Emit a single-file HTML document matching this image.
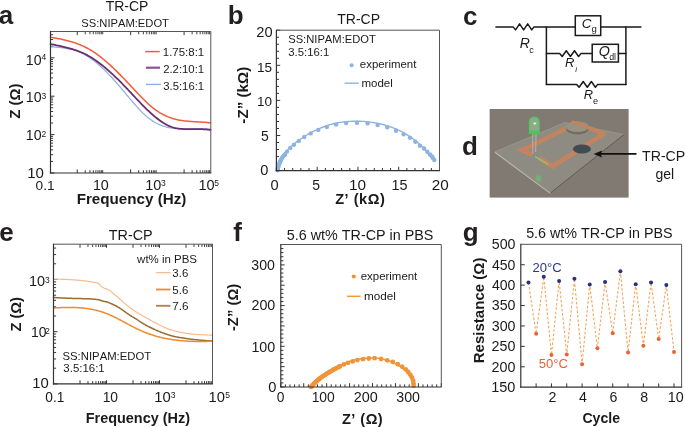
<!DOCTYPE html>
<html><head><meta charset="utf-8"><style>
html,body{margin:0;padding:0;background:#fff;}
svg{display:block;will-change:transform;}
text{font-family:"Liberation Sans", sans-serif;font-kerning:none;}
</style></head><body>
<svg width="685" height="427" viewBox="0 0 685 427">
<rect width="685" height="427" fill="#fff"/>
<text x="-1.36" y="23.90" style="font-size:26.00px;font-weight:bold;" fill="#231f20" >a</text>
<text x="105.69" y="10.90" style="font-size:13.96px;" fill="#1a1a1a" >TR-CP</text>
<text x="81.29" y="27.00" style="font-size:11.20px;" fill="#1a1a1a" >SS:NIPAM:EDOT</text>
<line x1="50.50" y1="173.00" x2="54.50" y2="173.00" stroke="#333" stroke-width="1.0" />
<line x1="50.50" y1="161.44" x2="53.10" y2="161.44" stroke="#3a3a3a" stroke-width="1.0" />
<line x1="50.50" y1="154.68" x2="53.10" y2="154.68" stroke="#3a3a3a" stroke-width="1.0" />
<line x1="50.50" y1="149.88" x2="53.10" y2="149.88" stroke="#3a3a3a" stroke-width="1.0" />
<line x1="50.50" y1="146.16" x2="53.10" y2="146.16" stroke="#3a3a3a" stroke-width="1.0" />
<line x1="50.50" y1="143.12" x2="53.10" y2="143.12" stroke="#3a3a3a" stroke-width="1.0" />
<line x1="50.50" y1="140.55" x2="53.10" y2="140.55" stroke="#3a3a3a" stroke-width="1.0" />
<line x1="50.50" y1="138.32" x2="53.10" y2="138.32" stroke="#3a3a3a" stroke-width="1.0" />
<line x1="50.50" y1="136.36" x2="53.10" y2="136.36" stroke="#3a3a3a" stroke-width="1.0" />
<line x1="50.50" y1="134.60" x2="54.50" y2="134.60" stroke="#333" stroke-width="1.0" />
<line x1="50.50" y1="123.04" x2="53.10" y2="123.04" stroke="#3a3a3a" stroke-width="1.0" />
<line x1="50.50" y1="116.28" x2="53.10" y2="116.28" stroke="#3a3a3a" stroke-width="1.0" />
<line x1="50.50" y1="111.48" x2="53.10" y2="111.48" stroke="#3a3a3a" stroke-width="1.0" />
<line x1="50.50" y1="107.76" x2="53.10" y2="107.76" stroke="#3a3a3a" stroke-width="1.0" />
<line x1="50.50" y1="104.72" x2="53.10" y2="104.72" stroke="#3a3a3a" stroke-width="1.0" />
<line x1="50.50" y1="102.15" x2="53.10" y2="102.15" stroke="#3a3a3a" stroke-width="1.0" />
<line x1="50.50" y1="99.92" x2="53.10" y2="99.92" stroke="#3a3a3a" stroke-width="1.0" />
<line x1="50.50" y1="97.96" x2="53.10" y2="97.96" stroke="#3a3a3a" stroke-width="1.0" />
<line x1="50.50" y1="96.20" x2="54.50" y2="96.20" stroke="#333" stroke-width="1.0" />
<line x1="50.50" y1="84.64" x2="53.10" y2="84.64" stroke="#3a3a3a" stroke-width="1.0" />
<line x1="50.50" y1="77.88" x2="53.10" y2="77.88" stroke="#3a3a3a" stroke-width="1.0" />
<line x1="50.50" y1="73.08" x2="53.10" y2="73.08" stroke="#3a3a3a" stroke-width="1.0" />
<line x1="50.50" y1="69.36" x2="53.10" y2="69.36" stroke="#3a3a3a" stroke-width="1.0" />
<line x1="50.50" y1="66.32" x2="53.10" y2="66.32" stroke="#3a3a3a" stroke-width="1.0" />
<line x1="50.50" y1="63.75" x2="53.10" y2="63.75" stroke="#3a3a3a" stroke-width="1.0" />
<line x1="50.50" y1="61.52" x2="53.10" y2="61.52" stroke="#3a3a3a" stroke-width="1.0" />
<line x1="50.50" y1="59.56" x2="53.10" y2="59.56" stroke="#3a3a3a" stroke-width="1.0" />
<line x1="50.50" y1="57.80" x2="54.50" y2="57.80" stroke="#333" stroke-width="1.0" />
<line x1="50.50" y1="46.24" x2="53.10" y2="46.24" stroke="#3a3a3a" stroke-width="1.0" />
<line x1="50.50" y1="39.48" x2="53.10" y2="39.48" stroke="#3a3a3a" stroke-width="1.0" />
<line x1="50.50" y1="34.68" x2="53.10" y2="34.68" stroke="#3a3a3a" stroke-width="1.0" />
<line x1="77.22" y1="173.00" x2="77.22" y2="169.40" stroke="#333" stroke-width="1.0" />
<line x1="77.22" y1="31.50" x2="77.22" y2="35.10" stroke="#3a3a3a" stroke-width="1.0" />
<line x1="85.26" y1="173.00" x2="85.26" y2="170.20" stroke="#3a3a3a" stroke-width="1.0" />
<line x1="85.26" y1="31.50" x2="85.26" y2="34.30" stroke="#444" stroke-width="1.0" />
<line x1="89.96" y1="173.00" x2="89.96" y2="170.20" stroke="#3a3a3a" stroke-width="1.0" />
<line x1="89.96" y1="31.50" x2="89.96" y2="34.30" stroke="#444" stroke-width="1.0" />
<line x1="93.30" y1="173.00" x2="93.30" y2="170.20" stroke="#3a3a3a" stroke-width="1.0" />
<line x1="93.30" y1="31.50" x2="93.30" y2="34.30" stroke="#444" stroke-width="1.0" />
<line x1="95.89" y1="173.00" x2="95.89" y2="170.20" stroke="#3a3a3a" stroke-width="1.0" />
<line x1="95.89" y1="31.50" x2="95.89" y2="34.30" stroke="#444" stroke-width="1.0" />
<line x1="98.01" y1="173.00" x2="98.01" y2="170.20" stroke="#3a3a3a" stroke-width="1.0" />
<line x1="98.01" y1="31.50" x2="98.01" y2="34.30" stroke="#444" stroke-width="1.0" />
<line x1="99.79" y1="173.00" x2="99.79" y2="170.20" stroke="#3a3a3a" stroke-width="1.0" />
<line x1="99.79" y1="31.50" x2="99.79" y2="34.30" stroke="#444" stroke-width="1.0" />
<line x1="101.34" y1="173.00" x2="101.34" y2="170.20" stroke="#3a3a3a" stroke-width="1.0" />
<line x1="101.34" y1="31.50" x2="101.34" y2="34.30" stroke="#444" stroke-width="1.0" />
<line x1="102.71" y1="173.00" x2="102.71" y2="170.20" stroke="#3a3a3a" stroke-width="1.0" />
<line x1="102.71" y1="31.50" x2="102.71" y2="34.30" stroke="#444" stroke-width="1.0" />
<line x1="130.65" y1="173.00" x2="130.65" y2="169.40" stroke="#333" stroke-width="1.0" />
<line x1="130.65" y1="31.50" x2="130.65" y2="35.10" stroke="#3a3a3a" stroke-width="1.0" />
<line x1="138.69" y1="173.00" x2="138.69" y2="170.20" stroke="#3a3a3a" stroke-width="1.0" />
<line x1="138.69" y1="31.50" x2="138.69" y2="34.30" stroke="#444" stroke-width="1.0" />
<line x1="143.40" y1="173.00" x2="143.40" y2="170.20" stroke="#3a3a3a" stroke-width="1.0" />
<line x1="143.40" y1="31.50" x2="143.40" y2="34.30" stroke="#444" stroke-width="1.0" />
<line x1="146.74" y1="173.00" x2="146.74" y2="170.20" stroke="#3a3a3a" stroke-width="1.0" />
<line x1="146.74" y1="31.50" x2="146.74" y2="34.30" stroke="#444" stroke-width="1.0" />
<line x1="149.32" y1="173.00" x2="149.32" y2="170.20" stroke="#3a3a3a" stroke-width="1.0" />
<line x1="149.32" y1="31.50" x2="149.32" y2="34.30" stroke="#444" stroke-width="1.0" />
<line x1="151.44" y1="173.00" x2="151.44" y2="170.20" stroke="#3a3a3a" stroke-width="1.0" />
<line x1="151.44" y1="31.50" x2="151.44" y2="34.30" stroke="#444" stroke-width="1.0" />
<line x1="153.23" y1="173.00" x2="153.23" y2="170.20" stroke="#3a3a3a" stroke-width="1.0" />
<line x1="153.23" y1="31.50" x2="153.23" y2="34.30" stroke="#444" stroke-width="1.0" />
<line x1="154.78" y1="173.00" x2="154.78" y2="170.20" stroke="#3a3a3a" stroke-width="1.0" />
<line x1="154.78" y1="31.50" x2="154.78" y2="34.30" stroke="#444" stroke-width="1.0" />
<line x1="156.14" y1="173.00" x2="156.14" y2="170.20" stroke="#3a3a3a" stroke-width="1.0" />
<line x1="156.14" y1="31.50" x2="156.14" y2="34.30" stroke="#444" stroke-width="1.0" />
<line x1="184.08" y1="173.00" x2="184.08" y2="169.40" stroke="#333" stroke-width="1.0" />
<line x1="184.08" y1="31.50" x2="184.08" y2="35.10" stroke="#3a3a3a" stroke-width="1.0" />
<line x1="192.13" y1="173.00" x2="192.13" y2="170.20" stroke="#3a3a3a" stroke-width="1.0" />
<line x1="192.13" y1="31.50" x2="192.13" y2="34.30" stroke="#444" stroke-width="1.0" />
<line x1="196.83" y1="173.00" x2="196.83" y2="170.20" stroke="#3a3a3a" stroke-width="1.0" />
<line x1="196.83" y1="31.50" x2="196.83" y2="34.30" stroke="#444" stroke-width="1.0" />
<line x1="200.17" y1="173.00" x2="200.17" y2="170.20" stroke="#3a3a3a" stroke-width="1.0" />
<line x1="200.17" y1="31.50" x2="200.17" y2="34.30" stroke="#444" stroke-width="1.0" />
<line x1="202.76" y1="173.00" x2="202.76" y2="170.20" stroke="#3a3a3a" stroke-width="1.0" />
<line x1="202.76" y1="31.50" x2="202.76" y2="34.30" stroke="#444" stroke-width="1.0" />
<line x1="204.87" y1="173.00" x2="204.87" y2="170.20" stroke="#3a3a3a" stroke-width="1.0" />
<line x1="204.87" y1="31.50" x2="204.87" y2="34.30" stroke="#444" stroke-width="1.0" />
<line x1="206.66" y1="173.00" x2="206.66" y2="170.20" stroke="#3a3a3a" stroke-width="1.0" />
<line x1="206.66" y1="31.50" x2="206.66" y2="34.30" stroke="#444" stroke-width="1.0" />
<line x1="208.21" y1="173.00" x2="208.21" y2="170.20" stroke="#3a3a3a" stroke-width="1.0" />
<line x1="208.21" y1="31.50" x2="208.21" y2="34.30" stroke="#444" stroke-width="1.0" />
<line x1="209.58" y1="173.00" x2="209.58" y2="170.20" stroke="#3a3a3a" stroke-width="1.0" />
<line x1="209.58" y1="31.50" x2="209.58" y2="34.30" stroke="#444" stroke-width="1.0" />
<path d="M50.50,46.78 L51.50,46.84 L52.50,46.90 L53.50,46.96 L54.50,47.03 L55.50,47.10 L56.50,47.18 L57.50,47.26 L58.50,47.35 L59.50,47.45 L60.50,47.55 L61.50,47.67 L62.50,47.79 L63.50,47.93 L64.50,48.07 L65.50,48.23 L66.50,48.40 L67.50,48.59 L68.50,48.79 L69.50,49.00 L70.50,49.23 L71.50,49.48 L72.50,49.74 L73.50,50.02 L74.50,50.32 L75.50,50.64 L76.50,50.98 L77.50,51.34 L78.50,51.72 L79.50,52.13 L80.50,52.55 L81.50,53.00 L82.50,53.48 L83.50,53.98 L84.50,54.51 L85.50,55.06 L86.50,55.65 L87.50,56.25 L88.50,56.89 L89.50,57.55 L90.50,58.23 L91.50,58.94 L92.50,59.67 L93.50,60.42 L94.50,61.20 L95.50,62.00 L96.50,62.82 L97.50,63.66 L98.50,64.52 L99.50,65.40 L100.50,66.30 L101.50,67.22 L102.50,68.16 L103.50,69.11 L104.50,70.09 L105.50,71.07 L106.50,72.08 L107.50,73.09 L108.50,74.13 L109.50,75.17 L110.50,76.23 L111.50,77.31 L112.50,78.39 L113.50,79.49 L114.50,80.60 L115.50,81.72 L116.50,82.84 L117.50,83.98 L118.50,85.13 L119.50,86.29 L120.50,87.45 L121.50,88.62 L122.50,89.80 L123.50,90.98 L124.50,92.17 L125.50,93.36 L126.50,94.56 L127.50,95.76 L128.50,96.95 L129.50,98.15 L130.50,99.34 L131.50,100.53 L132.50,101.71 L133.50,102.87 L134.50,104.03 L135.50,105.18 L136.50,106.31 L137.50,107.42 L138.50,108.51 L139.50,109.59 L140.50,110.64 L141.50,111.67 L142.50,112.67 L143.50,113.64 L144.50,114.59 L145.50,115.50 L146.50,116.38 L147.50,117.23 L148.50,118.04 L149.50,118.81 L150.50,119.55 L151.50,120.25 L152.50,120.91 L153.50,121.54 L154.50,122.13 L155.50,122.70 L156.50,123.23 L157.50,123.73 L158.50,124.20 L159.50,124.64 L160.50,125.06 L161.50,125.45 L162.50,125.81 L163.50,126.15 L164.50,126.46 L165.50,126.75 L166.50,127.02 L167.50,127.27 L168.50,127.50 L169.50,127.70 L170.50,127.89 L171.50,128.07 L172.50,128.22 L173.50,128.37 L174.50,128.49 L175.50,128.60 L176.50,128.70 L177.50,128.79 L178.50,128.86 L179.50,128.93 L180.50,128.98 L181.50,129.02 L182.50,129.06 L183.50,129.08 L184.50,129.10 L185.50,129.11 L186.50,129.11 L187.50,129.11 L188.50,129.11 L189.50,129.09 L190.50,129.08 L191.50,129.06 L192.50,129.05 L193.50,129.03 L194.50,129.00 L195.50,128.98 L196.50,128.96 L197.50,128.95 L198.50,128.93 L199.50,128.92 L200.50,128.91 L201.50,128.90 L202.50,128.90 L203.50,128.91 L204.50,128.92 L205.50,128.94 L206.50,128.97 L207.50,129.00 L208.50,129.05 L209.50,129.10 L210.50,129.17" fill="none" stroke="#8fb3e0" stroke-width="1.3" stroke-linejoin="round" stroke-linecap="round" />
<path d="M50.50,44.01 L51.50,44.23 L52.50,44.45 L53.50,44.66 L54.50,44.88 L55.50,45.09 L56.50,45.30 L57.50,45.51 L58.50,45.72 L59.50,45.94 L60.50,46.15 L61.50,46.37 L62.50,46.60 L63.50,46.82 L64.50,47.05 L65.50,47.29 L66.50,47.53 L67.50,47.78 L68.50,48.04 L69.50,48.31 L70.50,48.59 L71.50,48.87 L72.50,49.17 L73.50,49.48 L74.50,49.80 L75.50,50.13 L76.50,50.47 L77.50,50.83 L78.50,51.21 L79.50,51.60 L80.50,52.00 L81.50,52.43 L82.50,52.87 L83.50,53.33 L84.50,53.80 L85.50,54.30 L86.50,54.82 L87.50,55.36 L88.50,55.91 L89.50,56.49 L90.50,57.08 L91.50,57.69 L92.50,58.32 L93.50,58.97 L94.50,59.64 L95.50,60.32 L96.50,61.02 L97.50,61.73 L98.50,62.47 L99.50,63.21 L100.50,63.98 L101.50,64.75 L102.50,65.55 L103.50,66.35 L104.50,67.18 L105.50,68.01 L106.50,68.86 L107.50,69.72 L108.50,70.60 L109.50,71.48 L110.50,72.38 L111.50,73.29 L112.50,74.22 L113.50,75.15 L114.50,76.09 L115.50,77.05 L116.50,78.02 L117.50,78.99 L118.50,79.98 L119.50,80.97 L120.50,81.97 L121.50,82.98 L122.50,84.00 L123.50,85.03 L124.50,86.07 L125.50,87.11 L126.50,88.16 L127.50,89.21 L128.50,90.27 L129.50,91.34 L130.50,92.40 L131.50,93.47 L132.50,94.54 L133.50,95.61 L134.50,96.67 L135.50,97.74 L136.50,98.80 L137.50,99.86 L138.50,100.91 L139.50,101.96 L140.50,103.00 L141.50,104.03 L142.50,105.06 L143.50,106.08 L144.50,107.08 L145.50,108.08 L146.50,109.06 L147.50,110.03 L148.50,110.98 L149.50,111.92 L150.50,112.84 L151.50,113.75 L152.50,114.64 L153.50,115.51 L154.50,116.36 L155.50,117.19 L156.50,118.00 L157.50,118.78 L158.50,119.54 L159.50,120.28 L160.50,120.99 L161.50,121.68 L162.50,122.34 L163.50,122.97 L164.50,123.57 L165.50,124.14 L166.50,124.68 L167.50,125.19 L168.50,125.67 L169.50,126.11 L170.50,126.52 L171.50,126.89 L172.50,127.23 L173.50,127.53 L174.50,127.80 L175.50,128.03 L176.50,128.24 L177.50,128.42 L178.50,128.57 L179.50,128.70 L180.50,128.80 L181.50,128.89 L182.50,128.96 L183.50,129.01 L184.50,129.04 L185.50,129.07 L186.50,129.08 L187.50,129.08 L188.50,129.08 L189.50,129.08 L190.50,129.06 L191.50,129.05 L192.50,129.04 L193.50,129.03 L194.50,129.03 L195.50,129.03 L196.50,129.04 L197.50,129.06 L198.50,129.08 L199.50,129.11 L200.50,129.14 L201.50,129.18 L202.50,129.23 L203.50,129.28 L204.50,129.34 L205.50,129.41 L206.50,129.49 L207.50,129.57 L208.50,129.66 L209.50,129.76 L210.50,129.86" fill="none" stroke="#6c2c70" stroke-width="1.75" stroke-linejoin="round" stroke-linecap="round" />
<path d="M50.50,37.19 L51.50,37.37 L52.50,37.54 L53.50,37.72 L54.50,37.90 L55.50,38.08 L56.50,38.26 L57.50,38.45 L58.50,38.65 L59.50,38.84 L60.50,39.05 L61.50,39.26 L62.50,39.47 L63.50,39.70 L64.50,39.92 L65.50,40.16 L66.50,40.41 L67.50,40.66 L68.50,40.92 L69.50,41.20 L70.50,41.48 L71.50,41.77 L72.50,42.08 L73.50,42.39 L74.50,42.72 L75.50,43.06 L76.50,43.42 L77.50,43.78 L78.50,44.16 L79.50,44.56 L80.50,44.97 L81.50,45.39 L82.50,45.83 L83.50,46.29 L84.50,46.77 L85.50,47.26 L86.50,47.77 L87.50,48.29 L88.50,48.84 L89.50,49.40 L90.50,49.99 L91.50,50.59 L92.50,51.22 L93.50,51.86 L94.50,52.53 L95.50,53.21 L96.50,53.91 L97.50,54.63 L98.50,55.36 L99.50,56.12 L100.50,56.89 L101.50,57.68 L102.50,58.48 L103.50,59.30 L104.50,60.13 L105.50,60.98 L106.50,61.84 L107.50,62.71 L108.50,63.60 L109.50,64.50 L110.50,65.42 L111.50,66.34 L112.50,67.28 L113.50,68.23 L114.50,69.19 L115.50,70.15 L116.50,71.13 L117.50,72.12 L118.50,73.12 L119.50,74.13 L120.50,75.14 L121.50,76.16 L122.50,77.19 L123.50,78.23 L124.50,79.27 L125.50,80.32 L126.50,81.37 L127.50,82.43 L128.50,83.49 L129.50,84.56 L130.50,85.63 L131.50,86.71 L132.50,87.78 L133.50,88.86 L134.50,89.93 L135.50,91.01 L136.50,92.08 L137.50,93.14 L138.50,94.20 L139.50,95.25 L140.50,96.29 L141.50,97.32 L142.50,98.33 L143.50,99.34 L144.50,100.33 L145.50,101.30 L146.50,102.26 L147.50,103.20 L148.50,104.11 L149.50,105.01 L150.50,105.88 L151.50,106.73 L152.50,107.55 L153.50,108.35 L154.50,109.12 L155.50,109.85 L156.50,110.56 L157.50,111.24 L158.50,111.90 L159.50,112.52 L160.50,113.12 L161.50,113.70 L162.50,114.24 L163.50,114.77 L164.50,115.26 L165.50,115.74 L166.50,116.19 L167.50,116.62 L168.50,117.02 L169.50,117.40 L170.50,117.76 L171.50,118.10 L172.50,118.42 L173.50,118.72 L174.50,119.00 L175.50,119.27 L176.50,119.51 L177.50,119.74 L178.50,119.94 L179.50,120.14 L180.50,120.31 L181.50,120.48 L182.50,120.63 L183.50,120.76 L184.50,120.89 L185.50,121.00 L186.50,121.11 L187.50,121.20 L188.50,121.29 L189.50,121.37 L190.50,121.44 L191.50,121.51 L192.50,121.57 L193.50,121.63 L194.50,121.69 L195.50,121.74 L196.50,121.80 L197.50,121.85 L198.50,121.90 L199.50,121.96 L200.50,122.01 L201.50,122.07 L202.50,122.14 L203.50,122.21 L204.50,122.28 L205.50,122.36 L206.50,122.45 L207.50,122.55 L208.50,122.65 L209.50,122.77 L210.50,122.90" fill="none" stroke="#f25c3a" stroke-width="1.5" stroke-linejoin="round" stroke-linecap="round" />
<line x1="50.50" y1="31.50" x2="210.80" y2="31.50" stroke="#555" stroke-width="1.0" />
<line x1="210.80" y1="31.50" x2="210.80" y2="173.00" stroke="#555" stroke-width="1.0" />
<line x1="50.50" y1="31.00" x2="50.50" y2="173.60" stroke="#333" stroke-width="1.2" />
<line x1="49.90" y1="173.00" x2="211.30" y2="173.00" stroke="#333" stroke-width="1.2" />
<line x1="145.20" y1="51.60" x2="159.80" y2="51.60" stroke="#f25c3a" stroke-width="1.5" />
<line x1="146.00" y1="67.70" x2="160.00" y2="67.70" stroke="#8a5590" stroke-width="2.2" />
<line x1="146.00" y1="84.40" x2="161.00" y2="84.40" stroke="#8fb3e0" stroke-width="1.4" />
<text x="162.83" y="56.40" style="font-size:11.44px;" fill="#1a1a1a" >1.75:8:1</text>
<text x="163.13" y="73.10" style="font-size:11.35px;" fill="#1a1a1a" >2.2:10:1</text>
<text x="163.27" y="89.80" style="font-size:11.31px;" fill="#1a1a1a" >3.5:16:1</text>
<text x="25.82" y="64.90" style="font-size:14.14px;" fill="#1a1a1a" >10</text>
<text x="41.42" y="60.35" style="font-size:8.5px" fill="#1a1a1a">4</text>
<text x="25.82" y="102.40" style="font-size:14.14px;" fill="#1a1a1a" >10</text>
<text x="41.55" y="99.44" style="font-size:8.5px" fill="#1a1a1a">3</text>
<text x="25.82" y="139.90" style="font-size:14.14px;" fill="#1a1a1a" >10</text>
<text x="41.60" y="136.94" style="font-size:8.5px" fill="#1a1a1a">2</text>
<text x="27.15" y="177.50" style="font-size:15.04px;" fill="#1a1a1a" >10</text>
<text x="35.57" y="189.90" style="font-size:13.67px;" fill="#1a1a1a" >0.1</text>
<text x="92.91" y="189.70" style="font-size:14.34px;" fill="#1a1a1a" >10</text>
<text x="145.30" y="189.70" style="font-size:14.44px;" fill="#1a1a1a" >10</text>
<text x="161.05" y="185.94" style="font-size:8.5px" fill="#1a1a1a">3</text>
<text x="198.39" y="189.70" style="font-size:14.54px;" fill="#1a1a1a" >10</text>
<text x="214.23" y="185.85" style="font-size:8.5px" fill="#1a1a1a">5</text>
<text x="76.68" y="204.10" style="font-size:15.20px;font-weight:bold;" fill="#1a1a1a" >Frequency (Hz)</text>
<text x="20.10" y="118.64" transform="rotate(-90 20.10 118.64)" style="font-size:14.93px;font-weight:bold;" fill="#1a1a1a">Z (Ω)</text>
<text x="227.79" y="23.90" style="font-size:26.00px;font-weight:bold;" fill="#231f20" >b</text>
<text x="337.28" y="23.70" style="font-size:14.03px;" fill="#1a1a1a" >TR-CP</text>
<line x1="276.40" y1="170.60" x2="276.40" y2="166.80" stroke="#333" stroke-width="1.0" />
<line x1="276.40" y1="170.60" x2="280.20" y2="170.60" stroke="#333" stroke-width="1.0" />
<line x1="284.55" y1="170.60" x2="284.55" y2="168.00" stroke="#333" stroke-width="1.0" />
<line x1="276.40" y1="163.58" x2="279.00" y2="163.58" stroke="#333" stroke-width="1.0" />
<line x1="292.71" y1="170.60" x2="292.71" y2="168.00" stroke="#333" stroke-width="1.0" />
<line x1="276.40" y1="156.56" x2="279.00" y2="156.56" stroke="#333" stroke-width="1.0" />
<line x1="300.87" y1="170.60" x2="300.87" y2="168.00" stroke="#333" stroke-width="1.0" />
<line x1="276.40" y1="149.54" x2="279.00" y2="149.54" stroke="#333" stroke-width="1.0" />
<line x1="309.02" y1="170.60" x2="309.02" y2="168.00" stroke="#333" stroke-width="1.0" />
<line x1="276.40" y1="142.52" x2="279.00" y2="142.52" stroke="#333" stroke-width="1.0" />
<line x1="317.17" y1="170.60" x2="317.17" y2="166.80" stroke="#333" stroke-width="1.0" />
<line x1="276.40" y1="135.50" x2="280.20" y2="135.50" stroke="#333" stroke-width="1.0" />
<line x1="325.33" y1="170.60" x2="325.33" y2="168.00" stroke="#333" stroke-width="1.0" />
<line x1="276.40" y1="128.48" x2="279.00" y2="128.48" stroke="#333" stroke-width="1.0" />
<line x1="333.49" y1="170.60" x2="333.49" y2="168.00" stroke="#333" stroke-width="1.0" />
<line x1="276.40" y1="121.46" x2="279.00" y2="121.46" stroke="#333" stroke-width="1.0" />
<line x1="341.64" y1="170.60" x2="341.64" y2="168.00" stroke="#333" stroke-width="1.0" />
<line x1="276.40" y1="114.44" x2="279.00" y2="114.44" stroke="#333" stroke-width="1.0" />
<line x1="349.79" y1="170.60" x2="349.79" y2="168.00" stroke="#333" stroke-width="1.0" />
<line x1="276.40" y1="107.42" x2="279.00" y2="107.42" stroke="#333" stroke-width="1.0" />
<line x1="357.95" y1="170.60" x2="357.95" y2="166.80" stroke="#333" stroke-width="1.0" />
<line x1="276.40" y1="100.40" x2="280.20" y2="100.40" stroke="#333" stroke-width="1.0" />
<line x1="366.11" y1="170.60" x2="366.11" y2="168.00" stroke="#333" stroke-width="1.0" />
<line x1="276.40" y1="93.38" x2="279.00" y2="93.38" stroke="#333" stroke-width="1.0" />
<line x1="374.26" y1="170.60" x2="374.26" y2="168.00" stroke="#333" stroke-width="1.0" />
<line x1="276.40" y1="86.36" x2="279.00" y2="86.36" stroke="#333" stroke-width="1.0" />
<line x1="382.41" y1="170.60" x2="382.41" y2="168.00" stroke="#333" stroke-width="1.0" />
<line x1="276.40" y1="79.34" x2="279.00" y2="79.34" stroke="#333" stroke-width="1.0" />
<line x1="390.57" y1="170.60" x2="390.57" y2="168.00" stroke="#333" stroke-width="1.0" />
<line x1="276.40" y1="72.32" x2="279.00" y2="72.32" stroke="#333" stroke-width="1.0" />
<line x1="398.73" y1="170.60" x2="398.73" y2="166.80" stroke="#333" stroke-width="1.0" />
<line x1="276.40" y1="65.30" x2="280.20" y2="65.30" stroke="#333" stroke-width="1.0" />
<line x1="406.88" y1="170.60" x2="406.88" y2="168.00" stroke="#333" stroke-width="1.0" />
<line x1="276.40" y1="58.28" x2="279.00" y2="58.28" stroke="#333" stroke-width="1.0" />
<line x1="415.03" y1="170.60" x2="415.03" y2="168.00" stroke="#333" stroke-width="1.0" />
<line x1="276.40" y1="51.26" x2="279.00" y2="51.26" stroke="#333" stroke-width="1.0" />
<line x1="423.19" y1="170.60" x2="423.19" y2="168.00" stroke="#333" stroke-width="1.0" />
<line x1="276.40" y1="44.24" x2="279.00" y2="44.24" stroke="#333" stroke-width="1.0" />
<line x1="431.35" y1="170.60" x2="431.35" y2="168.00" stroke="#333" stroke-width="1.0" />
<line x1="276.40" y1="37.22" x2="279.00" y2="37.22" stroke="#333" stroke-width="1.0" />
<line x1="439.50" y1="170.60" x2="439.50" y2="166.80" stroke="#333" stroke-width="1.0" />
<line x1="276.40" y1="30.20" x2="280.20" y2="30.20" stroke="#333" stroke-width="1.0" />
<path d="M277.40,170.60 L277.48,170.16 L277.58,169.58 L277.69,168.88 L277.82,168.11 L277.97,167.30 L278.14,166.49 L278.31,165.71 L278.50,165.00 L278.70,164.34 L278.92,163.70 L279.16,163.06 L279.41,162.43 L279.67,161.81 L279.94,161.20 L280.22,160.60 L280.50,160.00 L280.78,159.41 L281.07,158.84 L281.36,158.28 L281.66,157.72 L281.97,157.17 L282.29,156.61 L282.64,156.06 L283.00,155.50 L283.39,154.93 L283.79,154.36 L284.22,153.79 L284.66,153.22 L285.11,152.65 L285.57,152.09 L286.03,151.54 L286.50,151.00 L286.97,150.47 L287.45,149.96 L287.94,149.45 L288.44,148.96 L288.94,148.46 L289.45,147.97 L289.97,147.49 L290.50,147.00 L291.04,146.51 L291.58,146.03 L292.13,145.56 L292.69,145.08 L293.25,144.61 L293.83,144.14 L294.41,143.67 L295.00,143.20 L295.59,142.73 L296.19,142.27 L296.79,141.82 L297.41,141.36 L298.03,140.91 L298.67,140.44 L299.32,139.98 L300.00,139.50 L300.70,139.01 L301.42,138.51 L302.15,138.01 L302.91,137.50 L303.67,136.99 L304.44,136.49 L305.22,135.99 L306.00,135.50 L306.78,135.02 L307.57,134.55 L308.36,134.08 L309.16,133.62 L309.97,133.16 L310.79,132.70 L311.64,132.25 L312.50,131.80 L313.39,131.35 L314.29,130.90 L315.22,130.45 L316.16,130.01 L317.11,129.57 L318.07,129.14 L319.03,128.71 L320.00,128.30 L320.97,127.90 L321.94,127.50 L322.92,127.11 L323.91,126.73 L324.90,126.35 L325.92,125.99 L326.95,125.64 L328.00,125.30 L329.07,124.97 L330.16,124.65 L331.26,124.35 L332.38,124.05 L333.51,123.77 L334.66,123.50 L335.82,123.24 L337.00,123.00 L338.20,122.78 L339.43,122.56 L340.68,122.37 L341.94,122.18 L343.21,122.01 L344.48,121.86 L345.74,121.72 L347.00,121.60 L348.25,121.50 L349.50,121.41 L350.75,121.34 L352.00,121.28 L353.25,121.24 L354.50,121.21 L355.75,121.20 L357.00,121.20 L358.25,121.21 L359.50,121.24 L360.75,121.28 L362.00,121.33 L363.25,121.40 L364.50,121.48 L365.75,121.58 L367.00,121.70 L368.25,121.83 L369.50,121.98 L370.75,122.15 L372.00,122.33 L373.25,122.52 L374.50,122.73 L375.75,122.96 L377.00,123.20 L378.26,123.46 L379.52,123.74 L380.79,124.03 L382.06,124.34 L383.32,124.66 L384.57,125.00 L385.80,125.34 L387.00,125.70 L388.18,126.07 L389.34,126.45 L390.49,126.85 L391.62,127.26 L392.74,127.68 L393.84,128.11 L394.93,128.55 L396.00,129.00 L397.05,129.46 L398.09,129.94 L399.12,130.43 L400.12,130.93 L401.12,131.44 L402.09,131.96 L403.05,132.48 L404.00,133.00 L404.93,133.53 L405.84,134.07 L406.74,134.61 L407.62,135.16 L408.49,135.72 L409.34,136.28 L410.18,136.84 L411.00,137.40 L411.80,137.97 L412.59,138.54 L413.37,139.11 L414.12,139.69 L414.87,140.27 L415.59,140.85 L416.30,141.43 L417.00,142.00 L417.68,142.57 L418.33,143.13 L418.97,143.69 L419.59,144.26 L420.21,144.82 L420.81,145.38 L421.41,145.94 L422.00,146.50 L422.59,147.07 L423.18,147.64 L423.77,148.21 L424.34,148.78 L424.91,149.35 L425.46,149.91 L425.99,150.46 L426.50,151.00 L426.99,151.53 L427.47,152.05 L427.93,152.57 L428.37,153.08 L428.80,153.58 L429.21,154.07 L429.61,154.54 L430.00,155.00 L430.37,155.44 L430.73,155.88 L431.07,156.30 L431.40,156.71 L431.72,157.10 L432.02,157.48 L432.31,157.85 L432.60,158.20 L432.88,158.55 L433.17,158.89 L433.45,159.23 L433.71,159.55 L433.96,159.85 L434.18,160.11 L434.36,160.33 L434.50,160.50" fill="none" stroke="#8fb3e0" stroke-width="1.4" stroke-linejoin="round" stroke-linecap="round" />
<circle cx="277.60" cy="170.40" r="2.1" fill="#8fb3e0"/>
<circle cx="277.69" cy="169.92" r="2.1" fill="#8fb3e0"/>
<circle cx="277.81" cy="169.24" r="2.1" fill="#8fb3e0"/>
<circle cx="277.96" cy="168.45" r="2.1" fill="#8fb3e0"/>
<circle cx="278.12" cy="167.60" r="2.1" fill="#8fb3e0"/>
<circle cx="278.30" cy="166.76" r="2.1" fill="#8fb3e0"/>
<circle cx="278.50" cy="166.00" r="2.1" fill="#8fb3e0"/>
<circle cx="278.71" cy="165.31" r="2.1" fill="#8fb3e0"/>
<circle cx="278.94" cy="164.64" r="2.1" fill="#8fb3e0"/>
<circle cx="279.18" cy="163.97" r="2.1" fill="#8fb3e0"/>
<circle cx="279.44" cy="163.32" r="2.1" fill="#8fb3e0"/>
<circle cx="279.71" cy="162.66" r="2.1" fill="#8fb3e0"/>
<circle cx="280.00" cy="162.00" r="2.1" fill="#8fb3e0"/>
<circle cx="280.29" cy="161.33" r="2.1" fill="#8fb3e0"/>
<circle cx="280.60" cy="160.65" r="2.1" fill="#8fb3e0"/>
<circle cx="280.91" cy="159.97" r="2.1" fill="#8fb3e0"/>
<circle cx="281.25" cy="159.30" r="2.1" fill="#8fb3e0"/>
<circle cx="281.61" cy="158.64" r="2.1" fill="#8fb3e0"/>
<circle cx="282.00" cy="158.00" r="2.1" fill="#8fb3e0"/>
<circle cx="282.46" cy="157.35" r="2.1" fill="#8fb3e0"/>
<circle cx="283.01" cy="156.67" r="2.1" fill="#8fb3e0"/>
<circle cx="283.57" cy="156.00" r="2.1" fill="#8fb3e0"/>
<circle cx="284.11" cy="155.39" r="2.1" fill="#8fb3e0"/>
<circle cx="284.57" cy="154.88" r="2.1" fill="#8fb3e0"/>
<circle cx="284.90" cy="154.50" r="2.1" fill="#8fb3e0"/>
<circle cx="284.90" cy="154.50" r="2.2" fill="#8fb3e0"/>
<circle cx="287.00" cy="151.60" r="2.2" fill="#8fb3e0"/>
<circle cx="290.30" cy="148.00" r="2.2" fill="#8fb3e0"/>
<circle cx="294.00" cy="144.70" r="2.2" fill="#8fb3e0"/>
<circle cx="298.80" cy="140.90" r="2.2" fill="#8fb3e0"/>
<circle cx="304.20" cy="137.00" r="2.2" fill="#8fb3e0"/>
<circle cx="310.70" cy="133.40" r="2.2" fill="#8fb3e0"/>
<circle cx="318.30" cy="129.90" r="2.2" fill="#8fb3e0"/>
<circle cx="326.80" cy="126.90" r="2.2" fill="#8fb3e0"/>
<circle cx="336.10" cy="124.60" r="2.2" fill="#8fb3e0"/>
<circle cx="346.10" cy="123.00" r="2.2" fill="#8fb3e0"/>
<circle cx="357.00" cy="122.70" r="2.2" fill="#8fb3e0"/>
<circle cx="367.60" cy="123.40" r="2.2" fill="#8fb3e0"/>
<circle cx="377.60" cy="125.10" r="2.2" fill="#8fb3e0"/>
<circle cx="387.20" cy="127.20" r="2.2" fill="#8fb3e0"/>
<circle cx="396.00" cy="130.70" r="2.2" fill="#8fb3e0"/>
<circle cx="403.60" cy="134.20" r="2.2" fill="#8fb3e0"/>
<circle cx="410.00" cy="137.80" r="2.2" fill="#8fb3e0"/>
<circle cx="415.30" cy="141.80" r="2.2" fill="#8fb3e0"/>
<circle cx="419.90" cy="145.70" r="2.2" fill="#8fb3e0"/>
<circle cx="424.10" cy="148.50" r="2.2" fill="#8fb3e0"/>
<circle cx="427.30" cy="151.80" r="2.2" fill="#8fb3e0"/>
<circle cx="429.90" cy="154.40" r="2.2" fill="#8fb3e0"/>
<circle cx="431.70" cy="156.20" r="2.2" fill="#8fb3e0"/>
<circle cx="432.90" cy="158.00" r="2.2" fill="#8fb3e0"/>
<circle cx="434.30" cy="160.00" r="2.2" fill="#8fb3e0"/>
<line x1="276.40" y1="30.20" x2="439.50" y2="30.20" stroke="#555" stroke-width="1.0" />
<line x1="439.50" y1="30.20" x2="439.50" y2="170.60" stroke="#555" stroke-width="1.0" />
<line x1="276.40" y1="29.70" x2="276.40" y2="171.20" stroke="#333" stroke-width="1.2" />
<line x1="275.80" y1="170.60" x2="440.00" y2="170.60" stroke="#333" stroke-width="1.2" />
<text x="288.19" y="42.60" style="font-size:11.20px;" fill="#1a1a1a" >SS:NIPAM:EDOT</text>
<text x="288.27" y="55.80" style="font-size:11.34px;" fill="#1a1a1a" >3.5:16:1</text>
<circle cx="351.60" cy="65.20" r="2.0" fill="#8fb3e0"/>
<text x="359.81" y="68.00" style="font-size:11.44px;" fill="#1a1a1a" >experiment</text>
<line x1="344.60" y1="83.20" x2="358.70" y2="83.20" stroke="#8fb3e0" stroke-width="1.4" />
<text x="361.44" y="87.20" style="font-size:11.50px;" fill="#1a1a1a" >model</text>
<text x="256.26" y="36.80" style="font-size:14.66px;" fill="#1a1a1a" >20</text>
<text x="256.97" y="71.50" style="font-size:13.58px;" fill="#1a1a1a" >15</text>
<text x="256.97" y="105.70" style="font-size:13.54px;" fill="#1a1a1a" >10</text>
<text x="261.04" y="140.60" style="font-size:13.92px;" fill="#1a1a1a" >5</text>
<text x="260.23" y="174.90" style="font-size:14.64px;" fill="#1a1a1a" >0</text>
<text x="270.53" y="189.90" style="font-size:14.64px;" fill="#1a1a1a" >0</text>
<text x="312.24" y="189.90" style="font-size:13.92px;" fill="#1a1a1a" >5</text>
<text x="349.03" y="189.90" style="font-size:15.34px;" fill="#1a1a1a" >10</text>
<text x="391.40" y="189.90" style="font-size:14.38px;" fill="#1a1a1a" >15</text>
<text x="431.73" y="189.90" style="font-size:15.25px;" fill="#1a1a1a" >20</text>
<text x="335.17" y="204.20" style="font-size:14.60px;font-weight:bold;" fill="#1a1a1a" textLength="49.59" lengthAdjust="spacing" >Z’ (kΩ)</text>
<text x="248.40" y="123.64" transform="rotate(-90 248.40 123.64)" style="font-size:15.18px;font-weight:bold;" fill="#1a1a1a">-Z” (kΩ)</text>
<text x="463.08" y="25.00" style="font-size:26.00px;font-weight:bold;" fill="#231f20" >c</text>
<path d="M495.90,26.90 L513.10,26.90 L513.10,26.90 L515.54,29.90 L519.57,23.90 L523.65,29.90 L527.68,23.90 L531.71,29.90 L534.00,26.90 L534.00,26.90 L575.30,26.90" fill="none" stroke="#1a1a1a" stroke-width="1.5" stroke-linejoin="round" stroke-linecap="round" />
<path d="M600.70,26.90 L640.90,26.90" fill="none" stroke="#1a1a1a" stroke-width="1.5" stroke-linejoin="round" stroke-linecap="round" />
<rect x="575.3" y="15.8" width="25.4" height="19.7" fill="none" stroke="#1a1a1a" stroke-width="1.5"/>
<path d="M546.40,26.90 L546.40,84.40" fill="none" stroke="#1a1a1a" stroke-width="1.5" stroke-linejoin="round" stroke-linecap="round" />
<path d="M625.90,26.90 L625.90,84.40" fill="none" stroke="#1a1a1a" stroke-width="1.5" stroke-linejoin="round" stroke-linecap="round" />
<path d="M546.40,53.60 L559.70,53.60 L559.70,53.60 L562.17,56.50 L566.26,50.70 L570.40,56.50 L574.49,50.70 L578.58,56.50 L580.90,53.60 L580.90,53.60 L592.20,53.60" fill="none" stroke="#1a1a1a" stroke-width="1.5" stroke-linejoin="round" stroke-linecap="round" />
<rect x="592.2" y="44.3" width="26.2" height="17.7" fill="none" stroke="#1a1a1a" stroke-width="1.5"/>
<path d="M618.40,53.60 L625.90,53.60" fill="none" stroke="#1a1a1a" stroke-width="1.5" stroke-linejoin="round" stroke-linecap="round" />
<path d="M546.40,84.40 L576.70,84.40 L576.70,84.40 L579.15,87.30 L583.20,81.50 L587.30,87.30 L591.35,81.50 L595.40,87.30 L597.70,84.40 L597.70,84.40 L625.90,84.40" fill="none" stroke="#1a1a1a" stroke-width="1.5" stroke-linejoin="round" stroke-linecap="round" />
<text x="519.77" y="47.70" style="font-size:13.93px;font-style:italic;" fill="#1a1a1a" >R</text>
<text x="529.22" y="52.60" style="font-size:9.05px;" fill="#1a1a1a" >c</text>
<text x="581.85" y="27.50" style="font-size:13.53px;font-style:italic;" fill="#1a1a1a" >C</text>
<text x="591.50" y="31.60" style="font-size:9.56px;" fill="#1a1a1a" >g</text>
<text x="598.69" y="55.60" style="font-size:14.37px;font-style:italic;" fill="#1a1a1a" >Q</text>
<text x="609.23" y="60.40" style="font-size:8.81px;" fill="#1a1a1a" >dl</text>
<text x="565.00" y="67.30" style="font-size:13.02px;font-style:italic;" fill="#1a1a1a" >R</text>
<text x="575.17" y="71.70" style="font-size:7.88px;font-style:italic;" fill="#1a1a1a" >i</text>
<text x="583.80" y="99.00" style="font-size:12.87px;font-style:italic;" fill="#1a1a1a" >R</text>
<text x="593.11" y="104.30" style="font-size:9.16px;" fill="#1a1a1a" >e</text>
<text x="461.93" y="154.90" style="font-size:26.00px;font-weight:bold;" fill="#231f20" >d</text>
<defs><filter id="blur1" x="-10%" y="-10%" width="120%" height="120%"><feGaussianBlur stdDeviation="0.7"/></filter><filter id="blur2" x="-50%" y="-50%" width="200%" height="200%"><feGaussianBlur stdDeviation="1.5"/></filter><clipPath id="photoclip"><rect x="489.4" y="109.0" width="139.4" height="88.8"/></clipPath></defs>
<g clip-path="url(#photoclip)">
<rect x="489.4" y="109.0" width="139.4" height="88.8" fill="#817a72"/>
<g filter="url(#blur1)">
<polygon points="495,151.7 550.5,192.8 624,134.5 565,122.5" fill="#8e8b82"/>
<polyline points="495,151.7 565,122.5 624,134.5" fill="none" stroke="#9a978d" stroke-width="0.8"/>
<polyline points="495,152.3 550.5,193.4" fill="none" stroke="#bcb9ae" stroke-width="1.1"/>
<polyline points="550.5,192.9 624,134.5" fill="none" stroke="#5a574f" stroke-width="0.9"/>
<polyline points="521,151 567,128" fill="none" stroke="#c4835f" stroke-width="4.2" stroke-linecap="butt"/>
<polygon points="516.5,150 521.5,147.2 534,153.3 531,157" fill="#c4835f"/>
<polyline points="589,128 597,131 605,134" fill="none" stroke="#c4835f" stroke-width="4.4" stroke-linejoin="round"/>
<polyline points="605,133.2 553,166" fill="none" stroke="#c4835f" stroke-width="4.6" stroke-linecap="butt"/>
<polyline points="538.5,157.8 555,167.6" fill="none" stroke="#c4835f" stroke-width="5.0" stroke-linecap="butt"/>
<ellipse cx="577.4" cy="128.8" rx="11.5" ry="5.6" fill="#726d61"/>
<ellipse cx="577.4" cy="126.6" rx="11.5" ry="5.4" fill="#979282"/>
<polyline points="573,122.2 581,125 589.5,128" fill="none" stroke="#c4835f" stroke-width="3.4" stroke-linecap="round"/>
<ellipse cx="581.9" cy="149.0" rx="9.0" ry="4.6" fill="#3f4b52"/>
<polyline points="532.6,134 532.8,153.5" fill="none" stroke="#b4afa0" stroke-width="1.1"/>
<polyline points="536,134 535.6,152" fill="none" stroke="#b4afa0" stroke-width="1.1"/>
</g>
<g filter="url(#blur1)"><rect x="529.6" y="117.2" width="9.4" height="16.8" rx="4.5" fill="#8fa98c"/><rect x="529.6" y="117.2" width="9.4" height="16.8" rx="4.5" fill="none" stroke="#52c862" stroke-width="1.5"/><rect x="528.8" y="130.6" width="11" height="3.2" fill="#4fc25f"/><ellipse cx="534.8" cy="123.4" rx="1.6" ry="1.0" fill="#dcffdc"/></g>
<ellipse cx="538.4" cy="178.4" rx="2.2" ry="2.8" fill="#5ad56a" opacity="0.85" filter="url(#blur2)"/>
<polyline points="535,156.5 548.5,164.5" fill="none" stroke="#6ee07c" stroke-width="1.2" opacity="0.9" filter="url(#blur1)"/>
</g>
<line x1="600.00" y1="153.90" x2="636.50" y2="153.90" stroke="#111" stroke-width="1.6" />
<polygon points="593.6,153.9 602.2,150.4 600.6,153.9 602.2,157.6" fill="#111"/>
<text x="641.98" y="161.20" style="font-size:14.19px;" fill="#1a1a1a" >TR-CP</text>
<text x="655.43" y="179.20" style="font-size:14.00px;" fill="#1a1a1a" >gel</text>
<text x="-0.72" y="240.70" style="font-size:26.00px;font-weight:bold;" fill="#231f20" >e</text>
<text x="108.68" y="239.90" style="font-size:14.43px;" fill="#1a1a1a" >TR-CP</text>
<line x1="53.50" y1="383.90" x2="57.50" y2="383.90" stroke="#333" stroke-width="1.0" />
<line x1="53.50" y1="368.19" x2="56.10" y2="368.19" stroke="#3a3a3a" stroke-width="1.0" />
<line x1="53.50" y1="358.99" x2="56.10" y2="358.99" stroke="#3a3a3a" stroke-width="1.0" />
<line x1="53.50" y1="352.47" x2="56.10" y2="352.47" stroke="#3a3a3a" stroke-width="1.0" />
<line x1="53.50" y1="347.41" x2="56.10" y2="347.41" stroke="#3a3a3a" stroke-width="1.0" />
<line x1="53.50" y1="343.28" x2="56.10" y2="343.28" stroke="#3a3a3a" stroke-width="1.0" />
<line x1="53.50" y1="339.79" x2="56.10" y2="339.79" stroke="#3a3a3a" stroke-width="1.0" />
<line x1="53.50" y1="336.76" x2="56.10" y2="336.76" stroke="#3a3a3a" stroke-width="1.0" />
<line x1="53.50" y1="334.09" x2="56.10" y2="334.09" stroke="#3a3a3a" stroke-width="1.0" />
<line x1="53.50" y1="331.70" x2="57.50" y2="331.70" stroke="#333" stroke-width="1.0" />
<line x1="53.50" y1="315.99" x2="56.10" y2="315.99" stroke="#3a3a3a" stroke-width="1.0" />
<line x1="53.50" y1="306.79" x2="56.10" y2="306.79" stroke="#3a3a3a" stroke-width="1.0" />
<line x1="53.50" y1="300.27" x2="56.10" y2="300.27" stroke="#3a3a3a" stroke-width="1.0" />
<line x1="53.50" y1="295.21" x2="56.10" y2="295.21" stroke="#3a3a3a" stroke-width="1.0" />
<line x1="53.50" y1="291.08" x2="56.10" y2="291.08" stroke="#3a3a3a" stroke-width="1.0" />
<line x1="53.50" y1="287.59" x2="56.10" y2="287.59" stroke="#3a3a3a" stroke-width="1.0" />
<line x1="53.50" y1="284.56" x2="56.10" y2="284.56" stroke="#3a3a3a" stroke-width="1.0" />
<line x1="53.50" y1="281.89" x2="56.10" y2="281.89" stroke="#3a3a3a" stroke-width="1.0" />
<line x1="53.50" y1="279.50" x2="57.50" y2="279.50" stroke="#333" stroke-width="1.0" />
<line x1="53.50" y1="263.79" x2="56.10" y2="263.79" stroke="#3a3a3a" stroke-width="1.0" />
<line x1="53.50" y1="254.59" x2="56.10" y2="254.59" stroke="#3a3a3a" stroke-width="1.0" />
<line x1="53.50" y1="248.07" x2="56.10" y2="248.07" stroke="#3a3a3a" stroke-width="1.0" />
<line x1="80.00" y1="383.90" x2="80.00" y2="380.30" stroke="#333" stroke-width="1.0" />
<line x1="80.00" y1="244.20" x2="80.00" y2="247.80" stroke="#3a3a3a" stroke-width="1.0" />
<line x1="106.50" y1="383.90" x2="106.50" y2="380.30" stroke="#333" stroke-width="1.0" />
<line x1="106.50" y1="244.20" x2="106.50" y2="247.80" stroke="#3a3a3a" stroke-width="1.0" />
<line x1="133.00" y1="383.90" x2="133.00" y2="380.30" stroke="#333" stroke-width="1.0" />
<line x1="133.00" y1="244.20" x2="133.00" y2="247.80" stroke="#3a3a3a" stroke-width="1.0" />
<line x1="159.50" y1="383.90" x2="159.50" y2="380.30" stroke="#333" stroke-width="1.0" />
<line x1="159.50" y1="244.20" x2="159.50" y2="247.80" stroke="#3a3a3a" stroke-width="1.0" />
<line x1="186.00" y1="383.90" x2="186.00" y2="380.30" stroke="#333" stroke-width="1.0" />
<line x1="186.00" y1="244.20" x2="186.00" y2="247.80" stroke="#3a3a3a" stroke-width="1.0" />
<line x1="212.50" y1="383.90" x2="212.50" y2="380.30" stroke="#333" stroke-width="1.0" />
<line x1="212.50" y1="244.20" x2="212.50" y2="247.80" stroke="#3a3a3a" stroke-width="1.0" />
<line x1="87.98" y1="383.90" x2="87.98" y2="381.10" stroke="#3a3a3a" stroke-width="1.0" />
<line x1="87.98" y1="244.20" x2="87.98" y2="247.00" stroke="#444" stroke-width="1.0" />
<line x1="92.64" y1="383.90" x2="92.64" y2="381.10" stroke="#3a3a3a" stroke-width="1.0" />
<line x1="92.64" y1="244.20" x2="92.64" y2="247.00" stroke="#444" stroke-width="1.0" />
<line x1="95.95" y1="383.90" x2="95.95" y2="381.10" stroke="#3a3a3a" stroke-width="1.0" />
<line x1="95.95" y1="244.20" x2="95.95" y2="247.00" stroke="#444" stroke-width="1.0" />
<line x1="98.52" y1="383.90" x2="98.52" y2="381.10" stroke="#3a3a3a" stroke-width="1.0" />
<line x1="98.52" y1="244.20" x2="98.52" y2="247.00" stroke="#444" stroke-width="1.0" />
<line x1="100.62" y1="383.90" x2="100.62" y2="381.10" stroke="#3a3a3a" stroke-width="1.0" />
<line x1="100.62" y1="244.20" x2="100.62" y2="247.00" stroke="#444" stroke-width="1.0" />
<line x1="102.40" y1="383.90" x2="102.40" y2="381.10" stroke="#3a3a3a" stroke-width="1.0" />
<line x1="102.40" y1="244.20" x2="102.40" y2="247.00" stroke="#444" stroke-width="1.0" />
<line x1="103.93" y1="383.90" x2="103.93" y2="381.10" stroke="#3a3a3a" stroke-width="1.0" />
<line x1="103.93" y1="244.20" x2="103.93" y2="247.00" stroke="#444" stroke-width="1.0" />
<line x1="105.29" y1="383.90" x2="105.29" y2="381.10" stroke="#3a3a3a" stroke-width="1.0" />
<line x1="105.29" y1="244.20" x2="105.29" y2="247.00" stroke="#444" stroke-width="1.0" />
<line x1="140.98" y1="383.90" x2="140.98" y2="381.10" stroke="#3a3a3a" stroke-width="1.0" />
<line x1="140.98" y1="244.20" x2="140.98" y2="247.00" stroke="#444" stroke-width="1.0" />
<line x1="145.64" y1="383.90" x2="145.64" y2="381.10" stroke="#3a3a3a" stroke-width="1.0" />
<line x1="145.64" y1="244.20" x2="145.64" y2="247.00" stroke="#444" stroke-width="1.0" />
<line x1="148.95" y1="383.90" x2="148.95" y2="381.10" stroke="#3a3a3a" stroke-width="1.0" />
<line x1="148.95" y1="244.20" x2="148.95" y2="247.00" stroke="#444" stroke-width="1.0" />
<line x1="151.52" y1="383.90" x2="151.52" y2="381.10" stroke="#3a3a3a" stroke-width="1.0" />
<line x1="151.52" y1="244.20" x2="151.52" y2="247.00" stroke="#444" stroke-width="1.0" />
<line x1="153.62" y1="383.90" x2="153.62" y2="381.10" stroke="#3a3a3a" stroke-width="1.0" />
<line x1="153.62" y1="244.20" x2="153.62" y2="247.00" stroke="#444" stroke-width="1.0" />
<line x1="155.40" y1="383.90" x2="155.40" y2="381.10" stroke="#3a3a3a" stroke-width="1.0" />
<line x1="155.40" y1="244.20" x2="155.40" y2="247.00" stroke="#444" stroke-width="1.0" />
<line x1="156.93" y1="383.90" x2="156.93" y2="381.10" stroke="#3a3a3a" stroke-width="1.0" />
<line x1="156.93" y1="244.20" x2="156.93" y2="247.00" stroke="#444" stroke-width="1.0" />
<line x1="158.29" y1="383.90" x2="158.29" y2="381.10" stroke="#3a3a3a" stroke-width="1.0" />
<line x1="158.29" y1="244.20" x2="158.29" y2="247.00" stroke="#444" stroke-width="1.0" />
<line x1="193.98" y1="383.90" x2="193.98" y2="381.10" stroke="#3a3a3a" stroke-width="1.0" />
<line x1="193.98" y1="244.20" x2="193.98" y2="247.00" stroke="#444" stroke-width="1.0" />
<line x1="198.64" y1="383.90" x2="198.64" y2="381.10" stroke="#3a3a3a" stroke-width="1.0" />
<line x1="198.64" y1="244.20" x2="198.64" y2="247.00" stroke="#444" stroke-width="1.0" />
<line x1="201.95" y1="383.90" x2="201.95" y2="381.10" stroke="#3a3a3a" stroke-width="1.0" />
<line x1="201.95" y1="244.20" x2="201.95" y2="247.00" stroke="#444" stroke-width="1.0" />
<line x1="204.52" y1="383.90" x2="204.52" y2="381.10" stroke="#3a3a3a" stroke-width="1.0" />
<line x1="204.52" y1="244.20" x2="204.52" y2="247.00" stroke="#444" stroke-width="1.0" />
<line x1="206.62" y1="383.90" x2="206.62" y2="381.10" stroke="#3a3a3a" stroke-width="1.0" />
<line x1="206.62" y1="244.20" x2="206.62" y2="247.00" stroke="#444" stroke-width="1.0" />
<line x1="208.40" y1="383.90" x2="208.40" y2="381.10" stroke="#3a3a3a" stroke-width="1.0" />
<line x1="208.40" y1="244.20" x2="208.40" y2="247.00" stroke="#444" stroke-width="1.0" />
<line x1="209.93" y1="383.90" x2="209.93" y2="381.10" stroke="#3a3a3a" stroke-width="1.0" />
<line x1="209.93" y1="244.20" x2="209.93" y2="247.00" stroke="#444" stroke-width="1.0" />
<line x1="211.29" y1="383.90" x2="211.29" y2="381.10" stroke="#3a3a3a" stroke-width="1.0" />
<line x1="211.29" y1="244.20" x2="211.29" y2="247.00" stroke="#444" stroke-width="1.0" />
<path d="M53.50,279.10 L54.00,279.11 L54.50,279.11 L55.00,279.12 L55.50,279.13 L56.00,279.14 L56.50,279.15 L57.00,279.16 L57.50,279.17 L58.00,279.19 L58.50,279.20 L59.00,279.21 L59.50,279.23 L60.00,279.24 L60.50,279.26 L61.00,279.27 L61.50,279.29 L62.00,279.31 L62.50,279.32 L63.00,279.34 L63.50,279.36 L64.00,279.37 L64.50,279.39 L65.00,279.41 L65.50,279.43 L66.00,279.45 L66.50,279.47 L67.00,279.49 L67.50,279.52 L68.00,279.54 L68.50,279.57 L69.00,279.59 L69.50,279.62 L70.00,279.64 L70.50,279.67 L71.00,279.70 L71.50,279.73 L72.00,279.76 L72.50,279.79 L73.00,279.83 L73.50,279.86 L74.00,279.89 L74.50,279.93 L75.00,279.96 L75.50,280.00 L76.00,280.04 L76.50,280.08 L77.00,280.13 L77.50,280.17 L78.00,280.22 L78.50,280.26 L79.00,280.31 L79.50,280.36 L80.00,280.41 L80.50,280.46 L81.00,280.51 L81.50,280.57 L82.00,280.62 L82.50,280.68 L83.00,280.73 L83.50,280.79 L84.00,280.85 L84.50,280.91 L85.00,280.97 L85.50,281.03 L86.00,281.09 L86.50,281.15 L87.00,281.21 L87.50,281.28 L88.00,281.34 L88.50,281.41 L89.00,281.48 L89.50,281.55 L90.00,281.63 L90.50,281.70 L91.00,281.78 L91.50,281.86 L92.00,281.95 L92.50,282.03 L93.00,282.12 L93.50,282.21 L94.00,282.30 L94.50,282.39 L95.00,282.48 L95.50,282.57 L96.00,282.66 L96.50,282.77 L97.00,282.90 L97.50,283.06 L98.00,283.24 L98.50,283.57 L99.00,284.01 L99.50,284.50 L100.00,285.05 L100.50,285.67 L101.00,286.20 L101.50,286.58 L102.00,286.92 L102.50,287.22 L103.00,287.50 L103.50,287.75 L104.00,288.00 L104.50,288.22 L105.00,288.43 L105.50,288.63 L106.00,288.82 L106.50,289.02 L107.00,289.22 L107.50,289.41 L108.00,289.59 L108.50,289.78 L109.00,290.00 L109.50,290.25 L110.00,290.55 L110.50,290.95 L111.00,291.39 L111.50,291.87 L112.00,292.35 L112.50,292.81 L113.00,293.24 L113.50,293.66 L114.00,294.09 L114.50,294.50 L115.00,294.92 L115.50,295.34 L116.00,295.76 L116.50,296.18 L117.00,296.60 L117.50,297.02 L118.00,297.45 L118.50,297.89 L119.00,298.33 L119.50,298.78 L120.00,299.23 L120.50,299.69 L121.00,300.16 L121.50,300.62 L122.00,301.08 L122.50,301.53 L123.00,301.98 L123.50,302.42 L124.00,302.85 L124.50,303.27 L125.00,303.68 L125.50,304.08 L126.00,304.48 L126.50,304.87 L127.00,305.25 L127.50,305.64 L128.00,306.02 L128.50,306.40 L129.00,306.77 L129.50,307.15 L130.00,307.52 L130.50,307.90 L131.00,308.28 L131.50,308.66 L132.00,309.04 L132.50,309.41 L133.00,309.78 L133.50,310.15 L134.00,310.52 L134.50,310.88 L135.00,311.23 L135.50,311.57 L136.00,311.90 L136.50,312.22 L137.00,312.53 L137.50,312.84 L138.00,313.14 L138.50,313.43 L139.00,313.72 L139.50,314.01 L140.00,314.30 L140.50,314.59 L141.00,314.87 L141.50,315.16 L142.00,315.44 L142.50,315.72 L143.00,316.00 L143.50,316.27 L144.00,316.55 L144.50,316.83 L145.00,317.10 L145.50,317.38 L146.00,317.66 L146.50,317.93 L147.00,318.21 L147.50,318.49 L148.00,318.76 L148.50,319.04 L149.00,319.32 L149.50,319.59 L150.00,319.87 L150.50,320.14 L151.00,320.42 L151.50,320.69 L152.00,320.96 L152.50,321.24 L153.00,321.51 L153.50,321.79 L154.00,322.06 L154.50,322.34 L155.00,322.61 L155.50,322.88 L156.00,323.15 L156.50,323.42 L157.00,323.69 L157.50,323.95 L158.00,324.21 L158.50,324.47 L159.00,324.73 L159.50,324.99 L160.00,325.25 L160.50,325.50 L161.00,325.75 L161.50,326.00 L162.00,326.25 L162.50,326.49 L163.00,326.72 L163.50,326.94 L164.00,327.17 L164.50,327.39 L165.00,327.61 L165.50,327.82 L166.00,328.03 L166.50,328.24 L167.00,328.44 L167.50,328.64 L168.00,328.83 L168.50,329.02 L169.00,329.20 L169.50,329.37 L170.00,329.53 L170.50,329.69 L171.00,329.85 L171.50,330.00 L172.00,330.15 L172.50,330.29 L173.00,330.43 L173.50,330.57 L174.00,330.71 L174.50,330.84 L175.00,330.97 L175.50,331.10 L176.00,331.23 L176.50,331.36 L177.00,331.49 L177.50,331.61 L178.00,331.73 L178.50,331.85 L179.00,331.97 L179.50,332.08 L180.00,332.19 L180.50,332.30 L181.00,332.40 L181.50,332.50 L182.00,332.60 L182.50,332.69 L183.00,332.78 L183.50,332.87 L184.00,332.96 L184.50,333.05 L185.00,333.13 L185.50,333.21 L186.00,333.28 L186.50,333.36 L187.00,333.43 L187.50,333.50 L188.00,333.56 L188.50,333.63 L189.00,333.70 L189.50,333.76 L190.00,333.82 L190.50,333.89 L191.00,333.94 L191.50,334.00 L192.00,334.06 L192.50,334.11 L193.00,334.16 L193.50,334.21 L194.00,334.25 L194.50,334.29 L195.00,334.33 L195.50,334.37 L196.00,334.41 L196.50,334.44 L197.00,334.48 L197.50,334.51 L198.00,334.54 L198.50,334.57 L199.00,334.60 L199.50,334.63 L200.00,334.66 L200.50,334.68 L201.00,334.71 L201.50,334.73 L202.00,334.76 L202.50,334.78 L203.00,334.80 L203.50,334.82 L204.00,334.84 L204.50,334.86 L205.00,334.88 L205.50,334.90 L206.00,334.92 L206.50,334.94 L207.00,334.95 L207.50,334.97 L208.00,334.99 L208.50,335.00 L209.00,335.02 L209.50,335.03 L210.00,335.05 L210.50,335.06 L211.00,335.07 L211.50,335.08 L212.00,335.09 L212.50,335.10" fill="none" stroke="#f7bb8e" stroke-width="1.2" stroke-linejoin="round" stroke-linecap="round" />
<path d="M53.50,297.49 L54.00,297.53 L54.50,297.56 L55.00,297.59 L55.50,297.62 L56.00,297.65 L56.50,297.68 L57.00,297.71 L57.50,297.74 L58.00,297.77 L58.50,297.79 L59.00,297.82 L59.50,297.85 L60.00,297.88 L60.50,297.90 L61.00,297.93 L61.50,297.95 L62.00,297.98 L62.50,298.00 L63.00,298.02 L63.50,298.05 L64.00,298.07 L64.50,298.09 L65.00,298.11 L65.50,298.13 L66.00,298.15 L66.50,298.17 L67.00,298.19 L67.50,298.21 L68.00,298.23 L68.50,298.25 L69.00,298.27 L69.50,298.28 L70.00,298.30 L70.50,298.32 L71.00,298.33 L71.50,298.35 L72.00,298.37 L72.50,298.38 L73.00,298.40 L73.50,298.41 L74.00,298.43 L74.50,298.44 L75.00,298.46 L75.50,298.47 L76.00,298.49 L76.50,298.50 L77.00,298.52 L77.50,298.53 L78.00,298.54 L78.50,298.55 L79.00,298.57 L79.50,298.58 L80.00,298.59 L80.50,298.60 L81.00,298.61 L81.50,298.62 L82.00,298.63 L82.50,298.64 L83.00,298.65 L83.50,298.66 L84.00,298.67 L84.50,298.69 L85.00,298.70 L85.50,298.71 L86.00,298.73 L86.50,298.74 L87.00,298.76 L87.50,298.78 L88.00,298.80 L88.50,298.82 L89.00,298.84 L89.50,298.87 L90.00,298.90 L90.50,298.93 L91.00,298.97 L91.50,299.00 L92.00,299.04 L92.50,299.08 L93.00,299.13 L93.50,299.17 L94.00,299.21 L94.50,299.26 L95.00,299.30 L95.50,299.34 L96.00,299.39 L96.50,299.43 L97.00,299.48 L97.50,299.54 L98.00,299.62 L98.50,299.72 L99.00,299.87 L99.50,300.03 L100.00,300.21 L100.50,300.38 L101.00,300.53 L101.50,300.67 L102.00,300.82 L102.50,300.96 L103.00,301.10 L103.50,301.23 L104.00,301.35 L104.50,301.45 L105.00,301.54 L105.50,301.64 L106.00,301.74 L106.50,301.85 L107.00,301.98 L107.50,302.14 L108.00,302.31 L108.50,302.49 L109.00,302.69 L109.50,302.89 L110.00,303.11 L110.50,303.33 L111.00,303.56 L111.50,303.79 L112.00,304.02 L112.50,304.25 L113.00,304.48 L113.50,304.72 L114.00,304.96 L114.50,305.20 L115.00,305.45 L115.50,305.71 L116.00,305.97 L116.50,306.23 L117.00,306.50 L117.50,306.78 L118.00,307.07 L118.50,307.36 L119.00,307.66 L119.50,307.98 L120.00,308.30 L120.50,308.64 L121.00,308.98 L121.50,309.33 L122.00,309.68 L122.50,310.03 L123.00,310.39 L123.50,310.74 L124.00,311.09 L124.50,311.44 L125.00,311.79 L125.50,312.15 L126.00,312.51 L126.50,312.87 L127.00,313.24 L127.50,313.60 L128.00,313.96 L128.50,314.32 L129.00,314.66 L129.50,315.00 L130.00,315.34 L130.50,315.65 L131.00,315.96 L131.50,316.26 L132.00,316.56 L132.50,316.84 L133.00,317.13 L133.50,317.41 L134.00,317.70 L134.50,317.99 L135.00,318.29 L135.50,318.59 L136.00,318.90 L136.50,319.22 L137.00,319.56 L137.50,319.90 L138.00,320.25 L138.50,320.59 L139.00,320.94 L139.50,321.27 L140.00,321.60 L140.50,321.92 L141.00,322.24 L141.50,322.56 L142.00,322.88 L142.50,323.19 L143.00,323.50 L143.50,323.81 L144.00,324.11 L144.50,324.40 L145.00,324.69 L145.50,324.98 L146.00,325.25 L146.50,325.53 L147.00,325.79 L147.50,326.05 L148.00,326.30 L148.50,326.55 L149.00,326.80 L149.50,327.04 L150.00,327.29 L150.50,327.53 L151.00,327.77 L151.50,328.00 L152.00,328.24 L152.50,328.48 L153.00,328.72 L153.50,328.95 L154.00,329.19 L154.50,329.42 L155.00,329.65 L155.50,329.88 L156.00,330.10 L156.50,330.32 L157.00,330.54 L157.50,330.76 L158.00,330.97 L158.50,331.18 L159.00,331.39 L159.50,331.59 L160.00,331.79 L160.50,331.99 L161.00,332.19 L161.50,332.38 L162.00,332.58 L162.50,332.77 L163.00,332.95 L163.50,333.14 L164.00,333.32 L164.50,333.50 L165.00,333.68 L165.50,333.85 L166.00,334.03 L166.50,334.20 L167.00,334.36 L167.50,334.53 L168.00,334.69 L168.50,334.85 L169.00,335.01 L169.50,335.16 L170.00,335.31 L170.50,335.47 L171.00,335.62 L171.50,335.76 L172.00,335.91 L172.50,336.05 L173.00,336.19 L173.50,336.32 L174.00,336.45 L174.50,336.57 L175.00,336.68 L175.50,336.78 L176.00,336.88 L176.50,336.97 L177.00,337.06 L177.50,337.15 L178.00,337.23 L178.50,337.31 L179.00,337.39 L179.50,337.46 L180.00,337.54 L180.50,337.62 L181.00,337.70 L181.50,337.78 L182.00,337.86 L182.50,337.94 L183.00,338.02 L183.50,338.10 L184.00,338.18 L184.50,338.26 L185.00,338.33 L185.50,338.41 L186.00,338.48 L186.50,338.56 L187.00,338.63 L187.50,338.70 L188.00,338.77 L188.50,338.84 L189.00,338.91 L189.50,338.98 L190.00,339.05 L190.50,339.12 L191.00,339.18 L191.50,339.24 L192.00,339.30 L192.50,339.36 L193.00,339.41 L193.50,339.47 L194.00,339.52 L194.50,339.57 L195.00,339.63 L195.50,339.68 L196.00,339.73 L196.50,339.77 L197.00,339.82 L197.50,339.87 L198.00,339.92 L198.50,339.96 L199.00,340.01 L199.50,340.05 L200.00,340.10 L200.50,340.15 L201.00,340.19 L201.50,340.24 L202.00,340.28 L202.50,340.33 L203.00,340.37 L203.50,340.42 L204.00,340.46 L204.50,340.50 L205.00,340.53 L205.50,340.57 L206.00,340.60 L206.50,340.63 L207.00,340.66 L207.50,340.69 L208.00,340.71 L208.50,340.74 L209.00,340.76 L209.50,340.79 L210.00,340.81 L210.50,340.83 L211.00,340.85 L211.50,340.87 L212.00,340.89 L212.50,340.90" fill="none" stroke="#9c6a33" stroke-width="1.5" stroke-linejoin="round" stroke-linecap="round" />
<path d="M53.50,307.96 L54.25,307.92 L55.00,307.89 L55.75,307.85 L56.50,307.81 L57.25,307.77 L58.00,307.74 L58.75,307.71 L59.50,307.67 L60.25,307.64 L61.00,307.61 L61.75,307.59 L62.50,307.56 L63.25,307.54 L64.00,307.52 L64.75,307.50 L65.50,307.49 L66.25,307.47 L67.00,307.46 L67.75,307.45 L68.50,307.45 L69.25,307.45 L70.00,307.45 L70.75,307.45 L71.50,307.46 L72.25,307.47 L73.00,307.48 L73.75,307.50 L74.50,307.52 L75.25,307.55 L76.00,307.58 L76.75,307.61 L77.50,307.65 L78.25,307.69 L79.00,307.74 L79.75,307.79 L80.50,307.85 L81.25,307.91 L82.00,307.97 L82.75,308.04 L83.50,308.12 L84.25,308.20 L85.00,308.29 L85.75,308.38 L86.50,308.47 L87.25,308.58 L88.00,308.69 L88.75,308.80 L89.50,308.92 L90.25,309.05 L91.00,309.18 L91.75,309.32 L92.50,309.47 L93.25,309.62 L94.00,309.78 L94.75,309.95 L95.50,310.12 L96.25,310.30 L97.00,310.49 L97.75,310.68 L98.50,310.88 L99.25,311.09 L100.00,311.31 L100.75,311.53 L101.50,311.77 L102.25,312.01 L103.00,312.26 L103.75,312.51 L104.50,312.78 L105.25,313.05 L106.00,313.33 L106.75,313.62 L107.50,313.92 L108.25,314.23 L109.00,314.55 L109.75,314.87 L110.50,315.20 L111.25,315.54 L112.00,315.88 L112.75,316.23 L113.50,316.59 L114.25,316.95 L115.00,317.32 L115.75,317.69 L116.50,318.07 L117.25,318.45 L118.00,318.83 L118.75,319.22 L119.50,319.61 L120.25,320.01 L121.00,320.41 L121.75,320.81 L122.50,321.21 L123.25,321.61 L124.00,322.01 L124.75,322.42 L125.50,322.82 L126.25,323.23 L127.00,323.63 L127.75,324.04 L128.50,324.44 L129.25,324.84 L130.00,325.24 L130.75,325.64 L131.50,326.03 L132.25,326.43 L133.00,326.82 L133.75,327.20 L134.50,327.59 L135.25,327.97 L136.00,328.34 L136.75,328.71 L137.50,329.08 L138.25,329.43 L139.00,329.79 L139.75,330.13 L140.50,330.48 L141.25,330.81 L142.00,331.14 L142.75,331.46 L143.50,331.77 L144.25,332.08 L145.00,332.38 L145.75,332.68 L146.50,332.97 L147.25,333.25 L148.00,333.53 L148.75,333.80 L149.50,334.07 L150.25,334.33 L151.00,334.58 L151.75,334.83 L152.50,335.07 L153.25,335.31 L154.00,335.54 L154.75,335.77 L155.50,335.99 L156.25,336.20 L157.00,336.41 L157.75,336.62 L158.50,336.82 L159.25,337.01 L160.00,337.20 L160.75,337.38 L161.50,337.56 L162.25,337.74 L163.00,337.91 L163.75,338.07 L164.50,338.23 L165.25,338.38 L166.00,338.53 L166.75,338.68 L167.50,338.82 L168.25,338.96 L169.00,339.09 L169.75,339.22 L170.50,339.34 L171.25,339.46 L172.00,339.58 L172.75,339.69 L173.50,339.79 L174.25,339.90 L175.00,340.00 L175.75,340.09 L176.50,340.18 L177.25,340.27 L178.00,340.35 L178.75,340.44 L179.50,340.51 L180.25,340.59 L181.00,340.65 L181.75,340.72 L182.50,340.78 L183.25,340.84 L184.00,340.90 L184.75,340.95 L185.50,341.00 L186.25,341.05 L187.00,341.10 L187.75,341.14 L188.50,341.17 L189.25,341.21 L190.00,341.24 L190.75,341.27 L191.50,341.30 L192.25,341.33 L193.00,341.35 L193.75,341.37 L194.50,341.38 L195.25,341.40 L196.00,341.41 L196.75,341.42 L197.50,341.43 L198.25,341.44 L199.00,341.44 L199.75,341.44 L200.50,341.44 L201.25,341.44 L202.00,341.44 L202.75,341.43 L203.50,341.43 L204.25,341.42 L205.00,341.41 L205.75,341.40 L206.50,341.38 L207.25,341.37 L208.00,341.35 L208.75,341.33 L209.50,341.32 L210.25,341.30 L211.00,341.27 L211.75,341.25 L212.50,341.23" fill="none" stroke="#f28a2e" stroke-width="1.5" stroke-linejoin="round" stroke-linecap="round" />
<line x1="53.50" y1="244.20" x2="212.50" y2="244.20" stroke="#555" stroke-width="1.0" />
<line x1="212.50" y1="244.20" x2="212.50" y2="383.90" stroke="#555" stroke-width="1.0" />
<line x1="53.50" y1="243.70" x2="53.50" y2="384.50" stroke="#333" stroke-width="1.2" />
<line x1="52.90" y1="383.90" x2="213.00" y2="383.90" stroke="#333" stroke-width="1.2" />
<text x="137.12" y="262.70" style="font-size:11.47px;" fill="#1a1a1a" >wt% in PBS</text>
<line x1="156.00" y1="272.60" x2="170.50" y2="272.60" stroke="#f7bb8e" stroke-width="1.3" />
<line x1="156.00" y1="289.50" x2="170.50" y2="289.50" stroke="#f28a2e" stroke-width="1.8" />
<line x1="156.00" y1="305.80" x2="170.50" y2="305.80" stroke="#b08650" stroke-width="1.9" />
<text x="172.36" y="277.00" style="font-size:11.47px;" fill="#1a1a1a" >3.6</text>
<text x="172.34" y="293.90" style="font-size:11.48px;" fill="#1a1a1a" >5.6</text>
<text x="172.20" y="310.40" style="font-size:11.74px;" fill="#1a1a1a" >7.6</text>
<text x="62.49" y="359.60" style="font-size:11.33px;" fill="#1a1a1a" >SS:NIPAM:EDOT</text>
<text x="63.36" y="371.80" style="font-size:11.45px;" fill="#1a1a1a" >3.5:16:1</text>
<text x="29.10" y="285.60" style="font-size:14.44px;" fill="#1a1a1a" >10</text>
<text x="44.95" y="282.54" style="font-size:8.5px" fill="#1a1a1a">3</text>
<text x="31.04" y="337.10" style="font-size:13.94px;" fill="#1a1a1a" >10</text>
<text x="45.00" y="333.64" style="font-size:8.5px" fill="#1a1a1a">2</text>
<text x="32.27" y="388.00" style="font-size:14.84px;" fill="#1a1a1a" >10</text>
<text x="45.36" y="402.10" style="font-size:13.75px;" fill="#1a1a1a" >0.1</text>
<text x="102.65" y="402.10" style="font-size:13.84px;" fill="#1a1a1a" >10</text>
<text x="154.37" y="402.10" style="font-size:14.84px;" fill="#1a1a1a" >10</text>
<text x="170.85" y="398.14" style="font-size:8.5px" fill="#1a1a1a">3</text>
<text x="208.48" y="402.10" style="font-size:14.74px;" fill="#1a1a1a" >10</text>
<text x="225.33" y="398.05" style="font-size:8.5px" fill="#1a1a1a">5</text>
<text x="85.73" y="423.40" style="font-size:14.44px;font-weight:bold;" fill="#1a1a1a" >Frequency (Hz)</text>
<text x="21.00" y="331.54" transform="rotate(-90 21.00 331.54)" style="font-size:14.67px;font-weight:bold;" fill="#1a1a1a">Z (Ω)</text>
<text x="233.16" y="240.50" style="font-size:26.00px;font-weight:bold;" fill="#231f20" >f</text>
<text x="286.83" y="240.00" style="font-size:14.33px;" fill="#1a1a1a" >5.6 wt% TR-CP in PBS</text>
<line x1="280.80" y1="387.00" x2="280.80" y2="383.20" stroke="#333" stroke-width="1.0" />
<line x1="280.80" y1="387.00" x2="284.60" y2="387.00" stroke="#333" stroke-width="1.0" />
<line x1="285.39" y1="387.00" x2="285.39" y2="384.40" stroke="#333" stroke-width="1.0" />
<line x1="280.80" y1="382.93" x2="283.40" y2="382.93" stroke="#333" stroke-width="1.0" />
<line x1="289.97" y1="387.00" x2="289.97" y2="384.40" stroke="#333" stroke-width="1.0" />
<line x1="280.80" y1="378.86" x2="283.40" y2="378.86" stroke="#333" stroke-width="1.0" />
<line x1="294.56" y1="387.00" x2="294.56" y2="384.40" stroke="#333" stroke-width="1.0" />
<line x1="280.80" y1="374.79" x2="283.40" y2="374.79" stroke="#333" stroke-width="1.0" />
<line x1="299.14" y1="387.00" x2="299.14" y2="384.40" stroke="#333" stroke-width="1.0" />
<line x1="280.80" y1="370.71" x2="283.40" y2="370.71" stroke="#333" stroke-width="1.0" />
<line x1="303.73" y1="387.00" x2="303.73" y2="383.20" stroke="#333" stroke-width="1.0" />
<line x1="280.80" y1="366.64" x2="284.60" y2="366.64" stroke="#333" stroke-width="1.0" />
<line x1="308.31" y1="387.00" x2="308.31" y2="384.40" stroke="#333" stroke-width="1.0" />
<line x1="280.80" y1="362.57" x2="283.40" y2="362.57" stroke="#333" stroke-width="1.0" />
<line x1="312.90" y1="387.00" x2="312.90" y2="384.40" stroke="#333" stroke-width="1.0" />
<line x1="280.80" y1="358.50" x2="283.40" y2="358.50" stroke="#333" stroke-width="1.0" />
<line x1="317.49" y1="387.00" x2="317.49" y2="384.40" stroke="#333" stroke-width="1.0" />
<line x1="280.80" y1="354.43" x2="283.40" y2="354.43" stroke="#333" stroke-width="1.0" />
<line x1="322.07" y1="387.00" x2="322.07" y2="384.40" stroke="#333" stroke-width="1.0" />
<line x1="280.80" y1="350.36" x2="283.40" y2="350.36" stroke="#333" stroke-width="1.0" />
<line x1="326.66" y1="387.00" x2="326.66" y2="383.20" stroke="#333" stroke-width="1.0" />
<line x1="280.80" y1="346.29" x2="284.60" y2="346.29" stroke="#333" stroke-width="1.0" />
<line x1="331.24" y1="387.00" x2="331.24" y2="384.40" stroke="#333" stroke-width="1.0" />
<line x1="280.80" y1="342.21" x2="283.40" y2="342.21" stroke="#333" stroke-width="1.0" />
<line x1="335.83" y1="387.00" x2="335.83" y2="384.40" stroke="#333" stroke-width="1.0" />
<line x1="280.80" y1="338.14" x2="283.40" y2="338.14" stroke="#333" stroke-width="1.0" />
<line x1="340.41" y1="387.00" x2="340.41" y2="384.40" stroke="#333" stroke-width="1.0" />
<line x1="280.80" y1="334.07" x2="283.40" y2="334.07" stroke="#333" stroke-width="1.0" />
<line x1="345.00" y1="387.00" x2="345.00" y2="384.40" stroke="#333" stroke-width="1.0" />
<line x1="280.80" y1="330.00" x2="283.40" y2="330.00" stroke="#333" stroke-width="1.0" />
<line x1="349.59" y1="387.00" x2="349.59" y2="383.20" stroke="#333" stroke-width="1.0" />
<line x1="280.80" y1="325.93" x2="284.60" y2="325.93" stroke="#333" stroke-width="1.0" />
<line x1="354.17" y1="387.00" x2="354.17" y2="384.40" stroke="#333" stroke-width="1.0" />
<line x1="280.80" y1="321.86" x2="283.40" y2="321.86" stroke="#333" stroke-width="1.0" />
<line x1="358.76" y1="387.00" x2="358.76" y2="384.40" stroke="#333" stroke-width="1.0" />
<line x1="280.80" y1="317.79" x2="283.40" y2="317.79" stroke="#333" stroke-width="1.0" />
<line x1="363.34" y1="387.00" x2="363.34" y2="384.40" stroke="#333" stroke-width="1.0" />
<line x1="280.80" y1="313.71" x2="283.40" y2="313.71" stroke="#333" stroke-width="1.0" />
<line x1="367.93" y1="387.00" x2="367.93" y2="384.40" stroke="#333" stroke-width="1.0" />
<line x1="280.80" y1="309.64" x2="283.40" y2="309.64" stroke="#333" stroke-width="1.0" />
<line x1="372.51" y1="387.00" x2="372.51" y2="383.20" stroke="#333" stroke-width="1.0" />
<line x1="280.80" y1="305.57" x2="284.60" y2="305.57" stroke="#333" stroke-width="1.0" />
<line x1="377.10" y1="387.00" x2="377.10" y2="384.40" stroke="#333" stroke-width="1.0" />
<line x1="280.80" y1="301.50" x2="283.40" y2="301.50" stroke="#333" stroke-width="1.0" />
<line x1="381.69" y1="387.00" x2="381.69" y2="384.40" stroke="#333" stroke-width="1.0" />
<line x1="280.80" y1="297.43" x2="283.40" y2="297.43" stroke="#333" stroke-width="1.0" />
<line x1="386.27" y1="387.00" x2="386.27" y2="384.40" stroke="#333" stroke-width="1.0" />
<line x1="280.80" y1="293.36" x2="283.40" y2="293.36" stroke="#333" stroke-width="1.0" />
<line x1="390.86" y1="387.00" x2="390.86" y2="384.40" stroke="#333" stroke-width="1.0" />
<line x1="280.80" y1="289.29" x2="283.40" y2="289.29" stroke="#333" stroke-width="1.0" />
<line x1="395.44" y1="387.00" x2="395.44" y2="383.20" stroke="#333" stroke-width="1.0" />
<line x1="280.80" y1="285.21" x2="284.60" y2="285.21" stroke="#333" stroke-width="1.0" />
<line x1="400.03" y1="387.00" x2="400.03" y2="384.40" stroke="#333" stroke-width="1.0" />
<line x1="280.80" y1="281.14" x2="283.40" y2="281.14" stroke="#333" stroke-width="1.0" />
<line x1="404.61" y1="387.00" x2="404.61" y2="384.40" stroke="#333" stroke-width="1.0" />
<line x1="280.80" y1="277.07" x2="283.40" y2="277.07" stroke="#333" stroke-width="1.0" />
<line x1="409.20" y1="387.00" x2="409.20" y2="384.40" stroke="#333" stroke-width="1.0" />
<line x1="280.80" y1="273.00" x2="283.40" y2="273.00" stroke="#333" stroke-width="1.0" />
<line x1="413.79" y1="387.00" x2="413.79" y2="384.40" stroke="#333" stroke-width="1.0" />
<line x1="280.80" y1="268.93" x2="283.40" y2="268.93" stroke="#333" stroke-width="1.0" />
<line x1="418.37" y1="387.00" x2="418.37" y2="383.20" stroke="#333" stroke-width="1.0" />
<line x1="280.80" y1="264.86" x2="284.60" y2="264.86" stroke="#333" stroke-width="1.0" />
<line x1="422.96" y1="387.00" x2="422.96" y2="384.40" stroke="#333" stroke-width="1.0" />
<line x1="280.80" y1="260.79" x2="283.40" y2="260.79" stroke="#333" stroke-width="1.0" />
<line x1="427.54" y1="387.00" x2="427.54" y2="384.40" stroke="#333" stroke-width="1.0" />
<line x1="280.80" y1="256.71" x2="283.40" y2="256.71" stroke="#333" stroke-width="1.0" />
<line x1="432.13" y1="387.00" x2="432.13" y2="384.40" stroke="#333" stroke-width="1.0" />
<line x1="280.80" y1="252.64" x2="283.40" y2="252.64" stroke="#333" stroke-width="1.0" />
<line x1="436.71" y1="387.00" x2="436.71" y2="384.40" stroke="#333" stroke-width="1.0" />
<line x1="280.80" y1="248.57" x2="283.40" y2="248.57" stroke="#333" stroke-width="1.0" />
<line x1="441.30" y1="387.00" x2="441.30" y2="383.20" stroke="#333" stroke-width="1.0" />
<line x1="280.80" y1="244.50" x2="284.60" y2="244.50" stroke="#333" stroke-width="1.0" />
<path d="M311.30,386.90 L311.50,386.64 L311.75,386.30 L312.06,385.90 L312.40,385.44 L312.77,384.96 L313.17,384.46 L313.58,383.97 L314.00,383.50 L314.43,383.04 L314.89,382.56 L315.36,382.08 L315.86,381.59 L316.37,381.10 L316.90,380.60 L317.44,380.10 L318.00,379.60 L318.57,379.10 L319.16,378.59 L319.76,378.07 L320.38,377.56 L321.01,377.04 L321.66,376.52 L322.32,376.01 L323.00,375.50 L323.70,375.00 L324.41,374.50 L325.13,374.00 L325.88,373.50 L326.63,373.00 L327.41,372.50 L328.20,372.00 L329.00,371.50 L329.83,370.99 L330.68,370.47 L331.55,369.94 L332.44,369.41 L333.33,368.89 L334.23,368.38 L335.12,367.88 L336.00,367.40 L336.88,366.94 L337.75,366.48 L338.62,366.04 L339.50,365.61 L340.38,365.19 L341.25,364.78 L342.12,364.39 L343.00,364.00 L343.88,363.62 L344.75,363.25 L345.62,362.90 L346.50,362.55 L347.38,362.22 L348.25,361.90 L349.12,361.59 L350.00,361.30 L350.88,361.03 L351.75,360.77 L352.62,360.53 L353.50,360.30 L354.38,360.08 L355.25,359.88 L356.12,359.69 L357.00,359.50 L357.88,359.32 L358.75,359.16 L359.62,359.01 L360.50,358.86 L361.38,358.73 L362.25,358.61 L363.12,358.50 L364.00,358.40 L364.88,358.31 L365.77,358.24 L366.67,358.17 L367.56,358.12 L368.45,358.08 L369.32,358.04 L370.17,358.02 L371.00,358.00 L371.80,357.99 L372.57,357.99 L373.32,358.00 L374.06,358.01 L374.79,358.04 L375.52,358.08 L376.26,358.13 L377.00,358.20 L377.75,358.28 L378.50,358.37 L379.25,358.48 L380.00,358.60 L380.75,358.73 L381.50,358.87 L382.25,359.03 L383.00,359.20 L383.75,359.38 L384.50,359.58 L385.25,359.79 L386.00,360.01 L386.75,360.24 L387.50,360.48 L388.25,360.74 L389.00,361.00 L389.76,361.28 L390.52,361.56 L391.29,361.86 L392.06,362.18 L392.82,362.50 L393.57,362.82 L394.30,363.16 L395.00,363.50 L395.68,363.85 L396.33,364.20 L396.97,364.57 L397.59,364.94 L398.21,365.32 L398.81,365.70 L399.41,366.10 L400.00,366.50 L400.59,366.91 L401.17,367.32 L401.75,367.75 L402.31,368.18 L402.87,368.61 L403.42,369.06 L403.96,369.53 L404.50,370.00 L405.03,370.49 L405.57,371.00 L406.09,371.53 L406.61,372.06 L407.12,372.60 L407.60,373.14 L408.07,373.68 L408.50,374.20 L408.91,374.72 L409.29,375.23 L409.65,375.74 L409.99,376.25 L410.31,376.76 L410.62,377.27 L410.91,377.78 L411.20,378.30 L411.47,378.82 L411.74,379.35 L411.98,379.89 L412.22,380.43 L412.44,380.96 L412.64,381.48 L412.83,382.00 L413.00,382.50 L413.15,383.01 L413.29,383.55 L413.41,384.09 L413.51,384.61 L413.60,385.11 L413.68,385.55 L413.75,385.92 L413.80,386.20" fill="none" stroke="#f39a3e" stroke-width="1.5" stroke-linejoin="round" stroke-linecap="round" />
<circle cx="311.10" cy="386.90" r="2.4" fill="#f0943a"/>
<circle cx="311.61" cy="386.33" r="2.4" fill="#f0943a"/>
<circle cx="312.33" cy="385.53" r="2.4" fill="#f0943a"/>
<circle cx="313.17" cy="384.59" r="2.4" fill="#f0943a"/>
<circle cx="314.09" cy="383.61" r="2.4" fill="#f0943a"/>
<circle cx="315.00" cy="382.70" r="2.4" fill="#f0943a"/>
<circle cx="315.91" cy="381.84" r="2.4" fill="#f0943a"/>
<circle cx="316.87" cy="380.98" r="2.4" fill="#f0943a"/>
<circle cx="317.88" cy="380.12" r="2.4" fill="#f0943a"/>
<circle cx="318.92" cy="379.26" r="2.4" fill="#f0943a"/>
<circle cx="320.00" cy="378.40" r="2.4" fill="#f0943a"/>
<circle cx="321.12" cy="377.55" r="2.4" fill="#f0943a"/>
<circle cx="322.28" cy="376.71" r="2.4" fill="#f0943a"/>
<circle cx="323.48" cy="375.88" r="2.4" fill="#f0943a"/>
<circle cx="324.72" cy="375.04" r="2.4" fill="#f0943a"/>
<circle cx="326.00" cy="374.20" r="2.4" fill="#f0943a"/>
<circle cx="327.34" cy="373.35" r="2.4" fill="#f0943a"/>
<circle cx="328.74" cy="372.49" r="2.4" fill="#f0943a"/>
<circle cx="330.17" cy="371.64" r="2.4" fill="#f0943a"/>
<circle cx="331.60" cy="370.80" r="2.4" fill="#f0943a"/>
<circle cx="333.00" cy="370.00" r="2.4" fill="#f0943a"/>
<circle cx="334.48" cy="369.18" r="2.4" fill="#f0943a"/>
<circle cx="336.06" cy="368.34" r="2.4" fill="#f0943a"/>
<circle cx="337.58" cy="367.55" r="2.4" fill="#f0943a"/>
<circle cx="338.88" cy="366.88" r="2.4" fill="#f0943a"/>
<circle cx="339.80" cy="366.40" r="2.4" fill="#f0943a"/>
<circle cx="343.90" cy="364.40" r="2.4" fill="#f0943a"/>
<circle cx="348.00" cy="362.80" r="2.4" fill="#f0943a"/>
<circle cx="352.70" cy="361.40" r="2.4" fill="#f0943a"/>
<circle cx="357.40" cy="360.10" r="2.4" fill="#f0943a"/>
<circle cx="363.00" cy="359.20" r="2.4" fill="#f0943a"/>
<circle cx="368.80" cy="358.50" r="2.4" fill="#f0943a"/>
<circle cx="374.60" cy="358.20" r="2.4" fill="#f0943a"/>
<circle cx="381.10" cy="359.00" r="2.4" fill="#f0943a"/>
<circle cx="387.20" cy="360.30" r="2.4" fill="#f0943a"/>
<circle cx="392.80" cy="362.00" r="2.4" fill="#f0943a"/>
<circle cx="397.80" cy="364.20" r="2.4" fill="#f0943a"/>
<circle cx="402.20" cy="366.70" r="2.4" fill="#f0943a"/>
<circle cx="405.70" cy="369.30" r="2.4" fill="#f0943a"/>
<circle cx="408.20" cy="371.90" r="2.4" fill="#f0943a"/>
<circle cx="410.20" cy="374.60" r="2.4" fill="#f0943a"/>
<circle cx="411.90" cy="377.50" r="2.4" fill="#f0943a"/>
<circle cx="413.10" cy="380.50" r="2.4" fill="#f0943a"/>
<circle cx="413.50" cy="383.20" r="2.4" fill="#f0943a"/>
<circle cx="413.60" cy="385.70" r="2.4" fill="#f0943a"/>
<line x1="280.80" y1="244.50" x2="441.30" y2="244.50" stroke="#555" stroke-width="1.0" />
<line x1="441.30" y1="244.50" x2="441.30" y2="387.00" stroke="#555" stroke-width="1.0" />
<line x1="280.80" y1="244.00" x2="280.80" y2="387.60" stroke="#333" stroke-width="1.2" />
<line x1="280.20" y1="387.00" x2="441.80" y2="387.00" stroke="#333" stroke-width="1.2" />
<circle cx="353.80" cy="276.50" r="2.1" fill="#f0943a"/>
<text x="360.71" y="280.10" style="font-size:11.44px;" fill="#1a1a1a" >experiment</text>
<line x1="346.90" y1="296.30" x2="360.60" y2="296.30" stroke="#f39a3e" stroke-width="1.5" />
<text x="364.02" y="299.70" style="font-size:11.74px;" fill="#1a1a1a" >model</text>
<text x="251.36" y="269.80" style="font-size:14.14px;" fill="#1a1a1a" >300</text>
<text x="251.48" y="310.30" style="font-size:14.25px;" fill="#1a1a1a" >200</text>
<text x="251.41" y="351.90" style="font-size:14.29px;" fill="#1a1a1a" >100</text>
<text x="268.13" y="391.60" style="font-size:14.64px;" fill="#1a1a1a" >0</text>
<text x="276.86" y="402.10" style="font-size:13.81px;" fill="#1a1a1a" >0</text>
<text x="311.64" y="402.10" style="font-size:13.91px;" fill="#1a1a1a" >100</text>
<text x="353.68" y="402.10" style="font-size:14.38px;" fill="#1a1a1a" >200</text>
<text x="396.26" y="402.10" style="font-size:14.20px;" fill="#1a1a1a" >300</text>
<text x="341.97" y="423.60" style="font-size:14.60px;font-weight:bold;" fill="#1a1a1a" textLength="40.74" lengthAdjust="spacing" >Z’ (Ω)</text>
<text x="238.50" y="331.08" transform="rotate(-90 238.50 331.08)" style="font-size:14.84px;font-weight:bold;" fill="#1a1a1a">-Z” (Ω)</text>
<text x="462.73" y="241.00" style="font-size:26.00px;font-weight:bold;" fill="#231f20" >g</text>
<text x="526.13" y="238.10" style="font-size:14.33px;" fill="#1a1a1a" >5.6 wt% TR-CP in PBS</text>
<line x1="520.80" y1="366.79" x2="524.80" y2="366.79" stroke="#333" stroke-width="1.0" />
<line x1="520.80" y1="346.37" x2="524.80" y2="346.37" stroke="#333" stroke-width="1.0" />
<line x1="520.80" y1="325.96" x2="524.80" y2="325.96" stroke="#333" stroke-width="1.0" />
<line x1="520.80" y1="305.54" x2="524.80" y2="305.54" stroke="#333" stroke-width="1.0" />
<line x1="520.80" y1="285.13" x2="524.80" y2="285.13" stroke="#333" stroke-width="1.0" />
<line x1="520.80" y1="264.71" x2="524.80" y2="264.71" stroke="#333" stroke-width="1.0" />
<line x1="536.12" y1="387.20" x2="536.12" y2="383.40" stroke="#333" stroke-width="1.0" />
<line x1="551.44" y1="387.20" x2="551.44" y2="383.40" stroke="#333" stroke-width="1.0" />
<line x1="566.76" y1="387.20" x2="566.76" y2="383.40" stroke="#333" stroke-width="1.0" />
<line x1="582.08" y1="387.20" x2="582.08" y2="383.40" stroke="#333" stroke-width="1.0" />
<line x1="597.40" y1="387.20" x2="597.40" y2="383.40" stroke="#333" stroke-width="1.0" />
<line x1="612.72" y1="387.20" x2="612.72" y2="383.40" stroke="#333" stroke-width="1.0" />
<line x1="628.04" y1="387.20" x2="628.04" y2="383.40" stroke="#333" stroke-width="1.0" />
<line x1="643.36" y1="387.20" x2="643.36" y2="383.40" stroke="#333" stroke-width="1.0" />
<line x1="658.68" y1="387.20" x2="658.68" y2="383.40" stroke="#333" stroke-width="1.0" />
<line x1="674.00" y1="387.20" x2="674.00" y2="383.40" stroke="#333" stroke-width="1.0" />
<path d="M528.46,282.60 L536.12,333.80 L543.78,276.80 L551.44,355.00 L559.10,280.90 L566.76,354.50 L574.42,278.80 L582.08,364.20 L589.74,284.50 L597.40,348.30 L605.06,282.10 L612.72,333.30 L620.38,271.30 L628.04,352.40 L635.70,284.30 L643.36,345.70 L651.02,282.60 L658.68,339.00 L666.34,285.00 L674.00,351.90" fill="none" stroke="#f5a55e" stroke-width="1.1" stroke-dasharray="2.6,1.8"/>
<circle cx="528.46" cy="282.60" r="2.0" fill="#27327a"/>
<circle cx="536.12" cy="333.80" r="2.0" fill="#ec6236"/>
<circle cx="543.78" cy="276.80" r="2.0" fill="#27327a"/>
<circle cx="551.44" cy="355.00" r="2.0" fill="#ec6236"/>
<circle cx="559.10" cy="280.90" r="2.0" fill="#27327a"/>
<circle cx="566.76" cy="354.50" r="2.0" fill="#ec6236"/>
<circle cx="574.42" cy="278.80" r="2.0" fill="#27327a"/>
<circle cx="582.08" cy="364.20" r="2.0" fill="#ec6236"/>
<circle cx="589.74" cy="284.50" r="2.0" fill="#27327a"/>
<circle cx="597.40" cy="348.30" r="2.0" fill="#ec6236"/>
<circle cx="605.06" cy="282.10" r="2.0" fill="#27327a"/>
<circle cx="612.72" cy="333.30" r="2.0" fill="#ec6236"/>
<circle cx="620.38" cy="271.30" r="2.0" fill="#27327a"/>
<circle cx="628.04" cy="352.40" r="2.0" fill="#ec6236"/>
<circle cx="635.70" cy="284.30" r="2.0" fill="#27327a"/>
<circle cx="643.36" cy="345.70" r="2.0" fill="#ec6236"/>
<circle cx="651.02" cy="282.60" r="2.0" fill="#27327a"/>
<circle cx="658.68" cy="339.00" r="2.0" fill="#ec6236"/>
<circle cx="666.34" cy="285.00" r="2.0" fill="#27327a"/>
<circle cx="674.00" cy="351.90" r="2.0" fill="#ec6236"/>
<line x1="520.80" y1="244.30" x2="681.60" y2="244.30" stroke="#555" stroke-width="1.0" />
<line x1="681.60" y1="244.30" x2="681.60" y2="387.20" stroke="#555" stroke-width="1.0" />
<line x1="520.80" y1="243.80" x2="520.80" y2="387.80" stroke="#333" stroke-width="1.2" />
<line x1="520.20" y1="387.20" x2="682.10" y2="387.20" stroke="#333" stroke-width="1.2" />
<text x="491.19" y="392.00" style="font-size:14.55px;" fill="#1a1a1a" >150</text>
<text x="491.58" y="371.59" style="font-size:14.31px;" fill="#1a1a1a" >200</text>
<text x="491.58" y="351.17" style="font-size:14.31px;" fill="#1a1a1a" >250</text>
<text x="491.76" y="330.76" style="font-size:14.20px;" fill="#1a1a1a" >300</text>
<text x="491.76" y="310.34" style="font-size:14.20px;" fill="#1a1a1a" >350</text>
<text x="491.98" y="289.93" style="font-size:14.07px;" fill="#1a1a1a" >400</text>
<text x="491.98" y="269.51" style="font-size:14.07px;" fill="#1a1a1a" >450</text>
<text x="491.73" y="249.10" style="font-size:14.22px;" fill="#1a1a1a" >500</text>
<text x="548.39" y="402.10" style="font-size:14.20px;" fill="#1a1a1a" >2</text>
<text x="579.08" y="402.10" style="font-size:14.20px;" fill="#1a1a1a" >4</text>
<text x="609.62" y="402.10" style="font-size:14.20px;" fill="#1a1a1a" >6</text>
<text x="640.31" y="402.10" style="font-size:14.20px;" fill="#1a1a1a" >8</text>
<text x="667.71" y="402.10" style="font-size:14.34px;" fill="#1a1a1a" >10</text>
<text x="582.42" y="422.70" style="font-size:14.11px;font-weight:bold;" fill="#1a1a1a" >Cycle</text>
<text x="484.00" y="363.31" transform="rotate(-90 484.00 363.31)" style="font-size:15.05px;font-weight:bold;" fill="#1a1a1a">Resistance (Ω)</text>
<text x="532.54" y="271.80" style="font-size:13.05px;" fill="#2e3688" >20°C</text>
<text x="538.78" y="367.90" style="font-size:13.08px;" fill="#ec6236" >50°C</text>
</svg></body></html>
